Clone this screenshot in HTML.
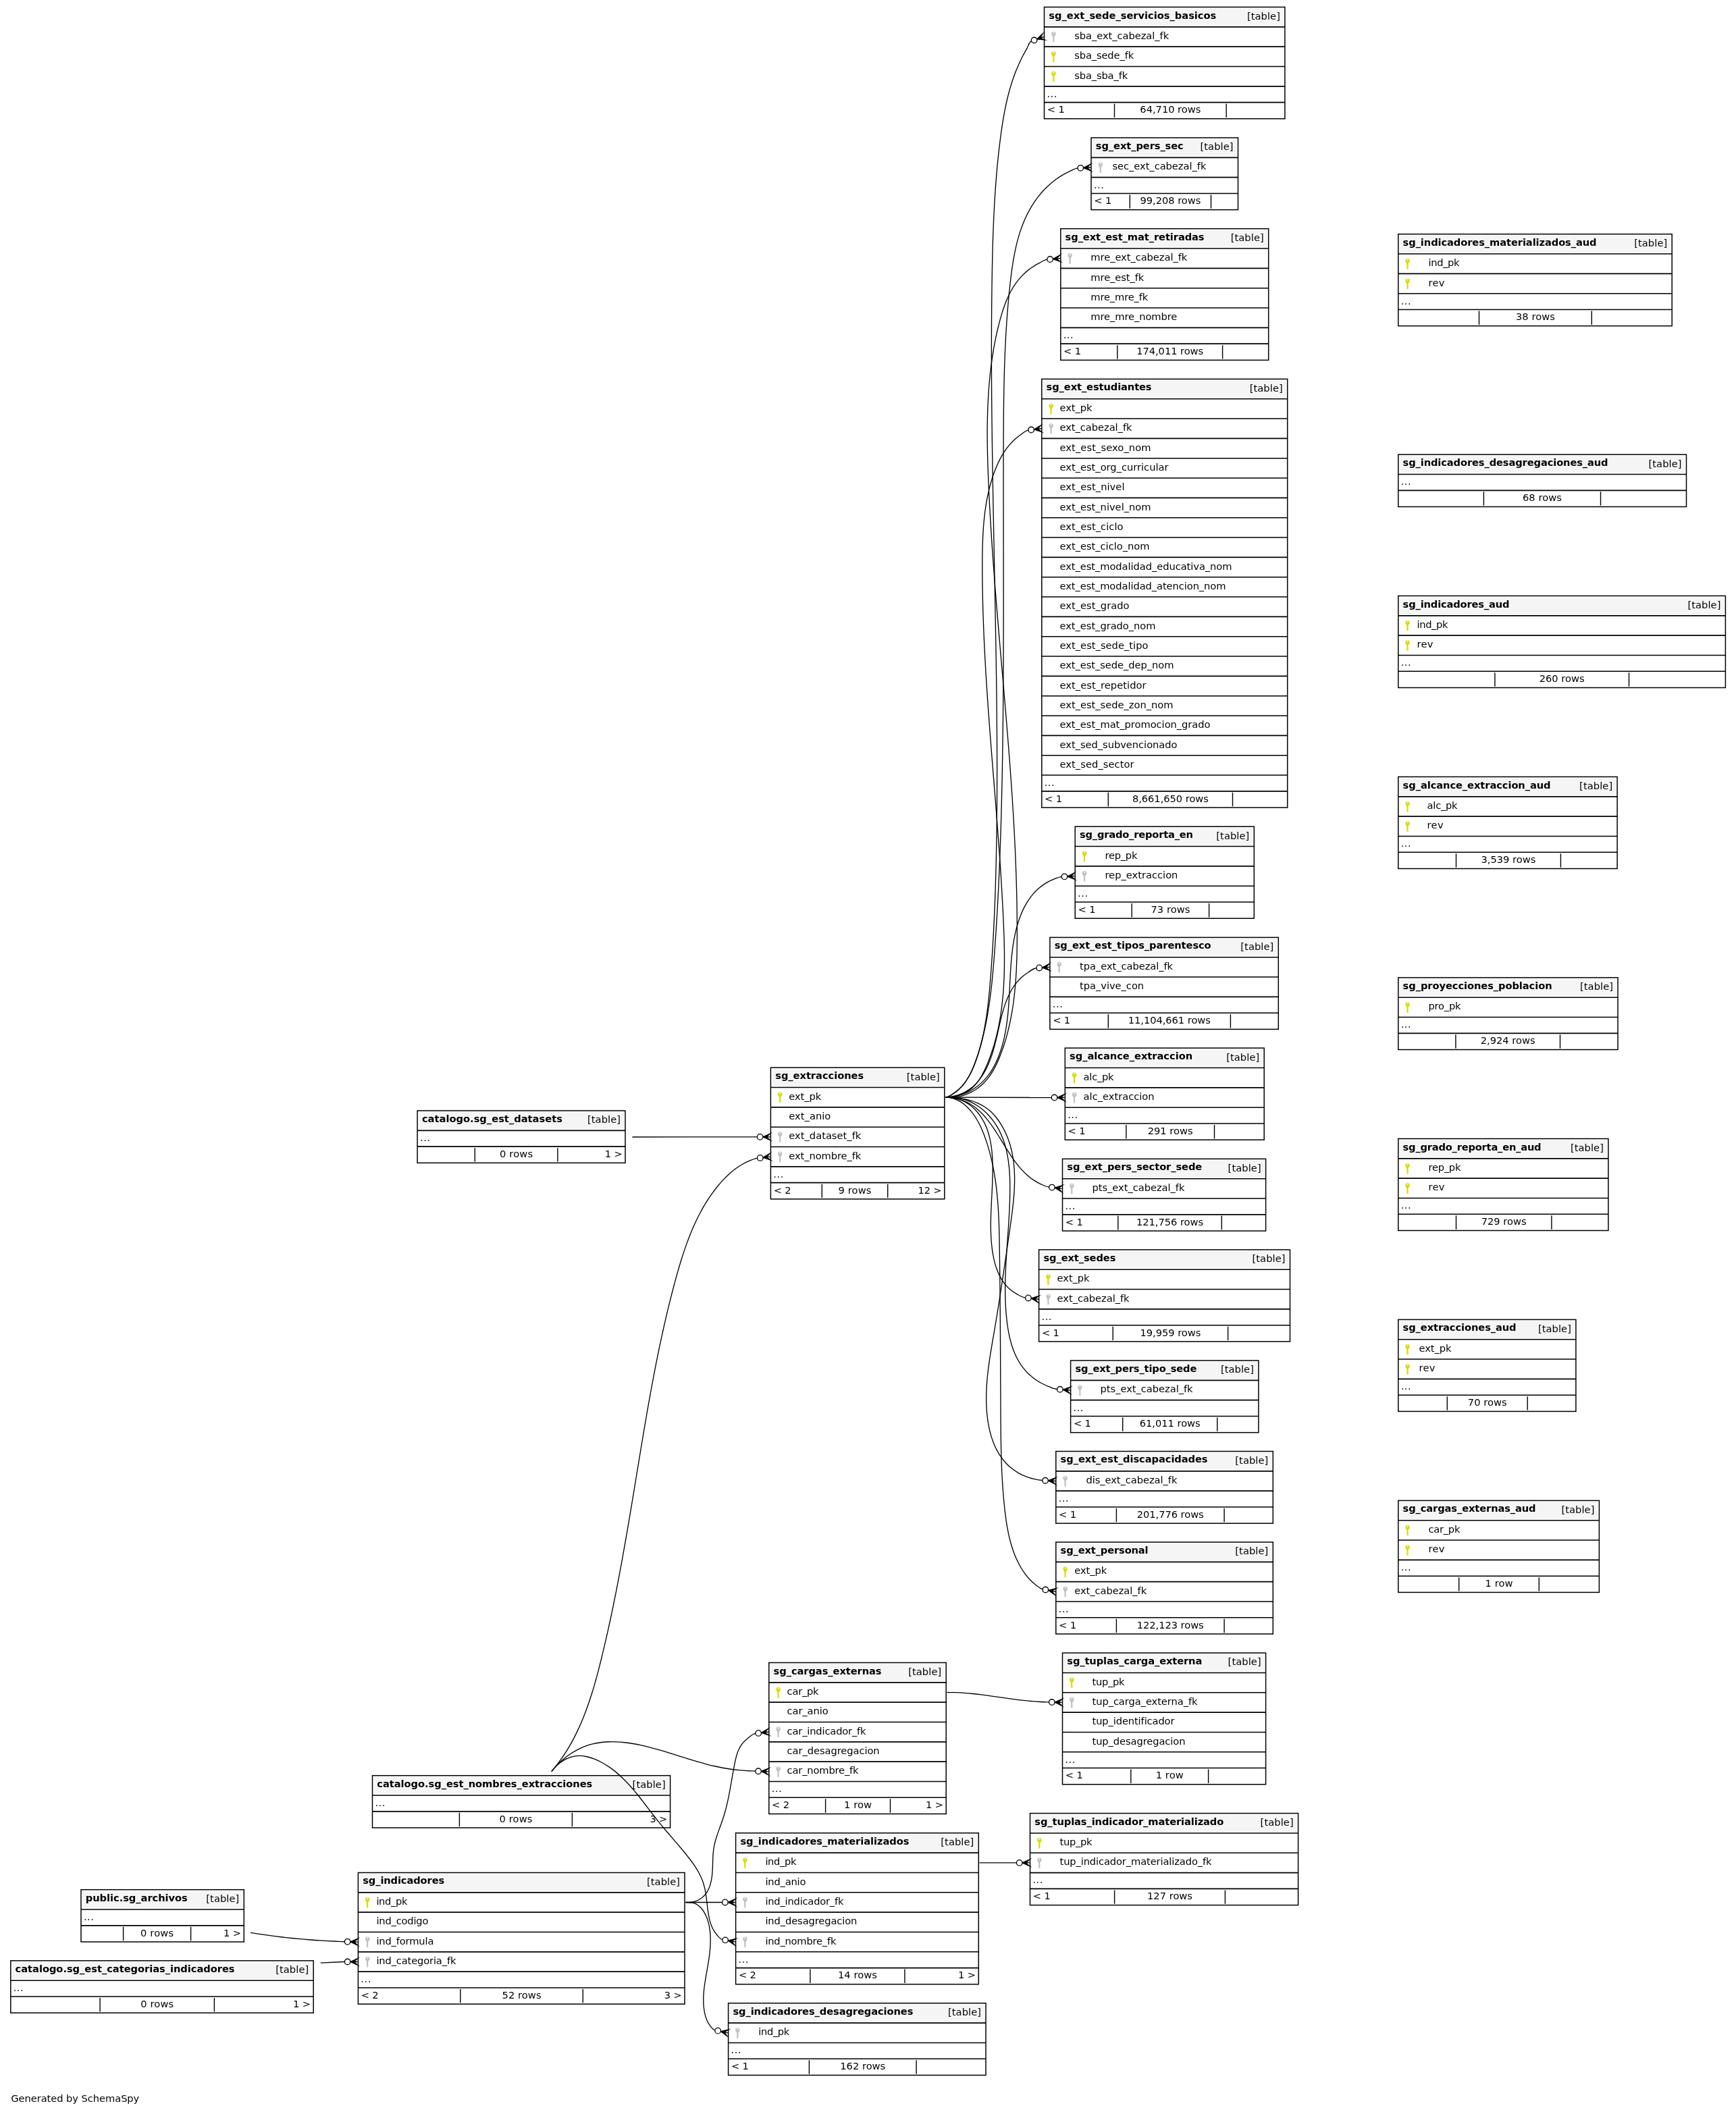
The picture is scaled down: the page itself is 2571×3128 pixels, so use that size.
<!DOCTYPE html>
<html lang="es"><head><meta charset="utf-8"><title>SchemaSpy - relationships</title>
<style>
html,body{margin:0;padding:0;background:#fff}
svg{display:block;will-change:transform}
text{font-family:"DejaVu Sans","Liberation Sans",sans-serif;font-size:14.667px;fill:#000;white-space:pre}
.b{font-weight:bold}
.e{text-anchor:end}
.m{text-anchor:middle}
.ed path{fill:none;stroke:#000;stroke-width:1.33}
.ed .c{fill:#000;stroke:#000;stroke-width:1.33;stroke-miterlimit:10}
.ed .o{fill:#fff;stroke:#000;stroke-width:1.33}
</style></head>
<body>
<svg width="2571" height="3128" viewBox="0 0 2571 3128">
<rect width="2571" height="3128" fill="#fff"/>
<g><rect x="1546.5" y="10.5" width="356.4" height="165.33" fill="#fff"/><rect x="1548.3" y="12.3" width="352.8" height="25.63" fill="#f5f5f5"/><path d="M1546.5 39.83H1902.9M1546.5 69.17H1902.9M1546.5 98.5H1902.9M1546.5 127.83H1902.9M1546.5 151.63H1902.9" stroke="#000" stroke-width="1.6" fill="none"/><path d="M1650.5 153.63V174.03M1816.2 153.63V174.03" stroke="#000" stroke-width="1.4" fill="none"/><rect x="1546.5" y="10.5" width="356.4" height="165.33" fill="none" stroke="#000" stroke-width="1.5"/><text class="b" x="1553.3" y="28" textLength="248">sg_ext_sede_servicios_basicos</text><text class="e" x="1895.9" y="29" textLength="49">[table]</text><g fill="#c0c0c0"><circle cx="1560.35" cy="50.1" r="3.2"/><path d="M1558.35 52.3 L1561.95 52.3 L1561.15 55.5 L1561.15 56.1 L1561.6 56.7 L1561.15 57.7 L1561.6 58.9 L1561.15 59.9 L1561.65 61.1 L1561.15 62.3 L1559.35 62.7 Q1559.15 62.7 1559.15 55.5 Z"/><circle cx="1560.4" cy="48.95" r="1.05" fill="#fff"/></g><text x="1591.2" y="58" textLength="140">sba_ext_cabezal_fk</text><g fill="#d6dc00"><circle cx="1560.35" cy="79.43" r="3.2"/><path d="M1558.35 81.63 L1561.95 81.63 L1561.15 84.83 L1561.15 85.43 L1561.6 86.03 L1561.15 87.03 L1561.6 88.23 L1561.15 89.23 L1561.65 90.43 L1561.15 91.63 L1559.35 92.03 Q1559.15 92.03 1559.15 84.83 Z"/><circle cx="1560.4" cy="78.28" r="1.05" fill="#fff"/></g><text x="1591.2" y="87" textLength="88">sba_sede_fk</text><g fill="#d6dc00"><circle cx="1560.35" cy="108.77" r="3.2"/><path d="M1558.35 110.97 L1561.95 110.97 L1561.15 114.17 L1561.15 114.77 L1561.6 115.37 L1561.15 116.37 L1561.6 117.57 L1561.15 118.57 L1561.65 119.77 L1561.15 120.97 L1559.35 121.37 Q1559.15 121.37 1559.15 114.17 Z"/><circle cx="1560.4" cy="107.62" r="1.05" fill="#fff"/></g><text x="1591.2" y="117" textLength="79">sba_sba_fk</text><text x="1550.4" y="144" textLength="15">...</text><text x="1550.8" y="167" textLength="26">&lt; 1</text><text class="m" x="1733.35" y="167" textLength="90">64,710 rows</text></g>
<g><rect x="1616" y="204" width="217.5" height="106.67" fill="#fff"/><rect x="1617.8" y="205.8" width="213.9" height="25.63" fill="#f5f5f5"/><path d="M1616 233.33H1833.5M1616 262.67H1833.5M1616 286.47H1833.5" stroke="#000" stroke-width="1.6" fill="none"/><path d="M1673.3 288.47V308.87M1793.5 288.47V308.87" stroke="#000" stroke-width="1.4" fill="none"/><rect x="1616" y="204" width="217.5" height="106.67" fill="none" stroke="#000" stroke-width="1.5"/><text class="b" x="1622.8" y="221" textLength="130">sg_ext_pers_sec</text><text class="e" x="1826.5" y="222" textLength="49">[table]</text><g fill="#c0c0c0"><circle cx="1629.85" cy="243.6" r="3.2"/><path d="M1627.85 245.8 L1631.45 245.8 L1630.65 249 L1630.65 249.6 L1631.1 250.2 L1630.65 251.2 L1631.1 252.4 L1630.65 253.4 L1631.15 254.6 L1630.65 255.8 L1628.85 256.2 Q1628.65 256.2 1628.65 249 Z"/><circle cx="1629.9" cy="242.45" r="1.05" fill="#fff"/></g><text x="1647.4" y="251" textLength="139">sec_ext_cabezal_fk</text><text x="1619.9" y="279" textLength="15">...</text><text x="1620.3" y="302" textLength="26">&lt; 1</text><text class="m" x="1733.4" y="302" textLength="90">99,208 rows</text></g>
<g><rect x="1570.8" y="338.7" width="307.9" height="194.67" fill="#fff"/><rect x="1572.6" y="340.5" width="304.3" height="25.63" fill="#f5f5f5"/><path d="M1570.8 368.03H1878.7M1570.8 397.37H1878.7M1570.8 426.7H1878.7M1570.8 456.03H1878.7M1570.8 485.36H1878.7M1570.8 509.17H1878.7" stroke="#000" stroke-width="1.6" fill="none"/><path d="M1654.8 511.17V531.57M1810.6 511.17V531.57" stroke="#000" stroke-width="1.4" fill="none"/><rect x="1570.8" y="338.7" width="307.9" height="194.67" fill="none" stroke="#000" stroke-width="1.5"/><text class="b" x="1577.6" y="356" textLength="206">sg_ext_est_mat_retiradas</text><text class="e" x="1871.7" y="357" textLength="49">[table]</text><g fill="#c0c0c0"><circle cx="1584.65" cy="378.3" r="3.2"/><path d="M1582.65 380.5 L1586.25 380.5 L1585.45 383.7 L1585.45 384.3 L1585.9 384.9 L1585.45 385.9 L1585.9 387.1 L1585.45 388.1 L1585.95 389.3 L1585.45 390.5 L1583.65 390.9 Q1583.45 390.9 1583.45 383.7 Z"/><circle cx="1584.7" cy="377.15" r="1.05" fill="#fff"/></g><text x="1615.3" y="386" textLength="143">mre_ext_cabezal_fk</text><text x="1615.3" y="416" textLength="79">mre_est_fk</text><text x="1615.3" y="445" textLength="85">mre_mre_fk</text><text x="1615.3" y="474" textLength="128">mre_mre_nombre</text><text x="1574.7" y="501" textLength="15">...</text><text x="1575.1" y="525" textLength="26">&lt; 1</text><text class="m" x="1732.7" y="525" textLength="99">174,011 rows</text></g>
<g><rect x="1542.8" y="561.4" width="363.9" height="634.66" fill="#fff"/><rect x="1544.6" y="563.2" width="360.3" height="25.63" fill="#f5f5f5"/><path d="M1542.8 590.73H1906.7M1542.8 620.07H1906.7M1542.8 649.4H1906.7M1542.8 678.73H1906.7M1542.8 708.06H1906.7M1542.8 737.4H1906.7M1542.8 766.73H1906.7M1542.8 796.06H1906.7M1542.8 825.4H1906.7M1542.8 854.73H1906.7M1542.8 884.06H1906.7M1542.8 913.4H1906.7M1542.8 942.73H1906.7M1542.8 972.06H1906.7M1542.8 1001.39H1906.7M1542.8 1030.73H1906.7M1542.8 1060.06H1906.7M1542.8 1089.39H1906.7M1542.8 1118.73H1906.7M1542.8 1148.06H1906.7M1542.8 1171.86H1906.7" stroke="#000" stroke-width="1.6" fill="none"/><path d="M1641.3 1173.86V1194.26M1825.5 1173.86V1194.26" stroke="#000" stroke-width="1.4" fill="none"/><rect x="1542.8" y="561.4" width="363.9" height="634.66" fill="none" stroke="#000" stroke-width="1.5"/><text class="b" x="1549.6" y="578" textLength="156">sg_ext_estudiantes</text><text class="e" x="1899.7" y="580" textLength="49">[table]</text><g fill="#d6dc00"><circle cx="1556.65" cy="601" r="3.2"/><path d="M1554.65 603.2 L1558.25 603.2 L1557.45 606.4 L1557.45 607 L1557.9 607.6 L1557.45 608.6 L1557.9 609.8 L1557.45 610.8 L1557.95 612 L1557.45 613.2 L1555.65 613.6 Q1555.45 613.6 1555.45 606.4 Z"/><circle cx="1556.7" cy="599.85" r="1.05" fill="#fff"/></g><text x="1569.5" y="609" textLength="48">ext_pk</text><g fill="#c0c0c0"><circle cx="1556.65" cy="630.33" r="3.2"/><path d="M1554.65 632.53 L1558.25 632.53 L1557.45 635.73 L1557.45 636.33 L1557.9 636.93 L1557.45 637.93 L1557.9 639.13 L1557.45 640.13 L1557.95 641.33 L1557.45 642.53 L1555.65 642.93 Q1555.45 642.93 1555.45 635.73 Z"/><circle cx="1556.7" cy="629.18" r="1.05" fill="#fff"/></g><text x="1569.5" y="638" textLength="107">ext_cabezal_fk</text><text x="1569.5" y="668" textLength="135">ext_est_sexo_nom</text><text x="1569.5" y="697" textLength="161">ext_est_org_curricular</text><text x="1569.5" y="726" textLength="96">ext_est_nivel</text><text x="1569.5" y="756" textLength="135">ext_est_nivel_nom</text><text x="1569.5" y="785" textLength="94">ext_est_ciclo</text><text x="1569.5" y="814" textLength="133">ext_est_ciclo_nom</text><text x="1569.5" y="844" textLength="255">ext_est_modalidad_educativa_nom</text><text x="1569.5" y="873" textLength="246">ext_est_modalidad_atencion_nom</text><text x="1569.5" y="902" textLength="103">ext_est_grado</text><text x="1569.5" y="932" textLength="142">ext_est_grado_nom</text><text x="1569.5" y="961" textLength="131">ext_est_sede_tipo</text><text x="1569.5" y="990" textLength="169">ext_est_sede_dep_nom</text><text x="1569.5" y="1020" textLength="128">ext_est_repetidor</text><text x="1569.5" y="1049" textLength="168">ext_est_sede_zon_nom</text><text x="1569.5" y="1078" textLength="223">ext_est_mat_promocion_grado</text><text x="1569.5" y="1108" textLength="174">ext_sed_subvencionado</text><text x="1569.5" y="1137" textLength="110">ext_sed_sector</text><text x="1546.7" y="1164" textLength="15">...</text><text x="1547.1" y="1188" textLength="26">&lt; 1</text><text class="m" x="1733.4" y="1188" textLength="113">8,661,650 rows</text></g>
<g><rect x="1592.2" y="1224.2" width="265.1" height="136" fill="#fff"/><rect x="1594" y="1226" width="261.5" height="25.63" fill="#f5f5f5"/><path d="M1592.2 1253.53H1857.3M1592.2 1282.87H1857.3M1592.2 1312.2H1857.3M1592.2 1336H1857.3" stroke="#000" stroke-width="1.6" fill="none"/><path d="M1676.2 1338V1358.4M1790.6 1338V1358.4" stroke="#000" stroke-width="1.4" fill="none"/><rect x="1592.2" y="1224.2" width="265.1" height="136" fill="none" stroke="#000" stroke-width="1.5"/><text class="b" x="1599" y="1241" textLength="168">sg_grado_reporta_en</text><text class="e" x="1850.3" y="1243" textLength="49">[table]</text><g fill="#d6dc00"><circle cx="1606.05" cy="1263.8" r="3.2"/><path d="M1604.05 1266 L1607.65 1266 L1606.85 1269.2 L1606.85 1269.8 L1607.3 1270.4 L1606.85 1271.4 L1607.3 1272.6 L1606.85 1273.6 L1607.35 1274.8 L1606.85 1276 L1605.05 1276.4 Q1604.85 1276.4 1604.85 1269.2 Z"/><circle cx="1606.1" cy="1262.65" r="1.05" fill="#fff"/></g><text x="1636.4" y="1272" textLength="48">rep_pk</text><g fill="#c0c0c0"><circle cx="1606.05" cy="1293.13" r="3.2"/><path d="M1604.05 1295.33 L1607.65 1295.33 L1606.85 1298.53 L1606.85 1299.13 L1607.3 1299.73 L1606.85 1300.73 L1607.3 1301.93 L1606.85 1302.93 L1607.35 1304.13 L1606.85 1305.33 L1605.05 1305.73 Q1604.85 1305.73 1604.85 1298.53 Z"/><circle cx="1606.1" cy="1291.98" r="1.05" fill="#fff"/></g><text x="1636.4" y="1301" textLength="108">rep_extraccion</text><text x="1596.1" y="1328" textLength="15">...</text><text x="1596.5" y="1352" textLength="26">&lt; 1</text><text class="m" x="1733.4" y="1352" textLength="58">73 rows</text></g>
<g><rect x="1554.9" y="1388.4" width="338.4" height="136" fill="#fff"/><rect x="1556.7" y="1390.2" width="334.8" height="25.63" fill="#f5f5f5"/><path d="M1554.9 1417.73H1893.3M1554.9 1447.07H1893.3M1554.9 1476.4H1893.3M1554.9 1500.2H1893.3" stroke="#000" stroke-width="1.6" fill="none"/><path d="M1641.3 1502.2V1522.6M1822.4 1502.2V1522.6" stroke="#000" stroke-width="1.4" fill="none"/><rect x="1554.9" y="1388.4" width="338.4" height="136" fill="none" stroke="#000" stroke-width="1.5"/><text class="b" x="1561.7" y="1405" textLength="232">sg_ext_est_tipos_parentesco</text><text class="e" x="1886.3" y="1407" textLength="49">[table]</text><g fill="#c0c0c0"><circle cx="1568.75" cy="1428" r="3.2"/><path d="M1566.75 1430.2 L1570.35 1430.2 L1569.55 1433.4 L1569.55 1434 L1570 1434.6 L1569.55 1435.6 L1570 1436.8 L1569.55 1437.8 L1570.05 1439 L1569.55 1440.2 L1567.75 1440.6 Q1567.55 1440.6 1567.55 1433.4 Z"/><circle cx="1568.8" cy="1426.85" r="1.05" fill="#fff"/></g><text x="1599.1" y="1436" textLength="138">tpa_ext_cabezal_fk</text><text x="1599.1" y="1465" textLength="95">tpa_vive_con</text><text x="1558.8" y="1492" textLength="15">...</text><text x="1559.2" y="1516" textLength="26">&lt; 1</text><text class="m" x="1731.85" y="1516" textLength="122">11,104,661 rows</text></g>
<g><rect x="1577.3" y="1552.2" width="294.9" height="136" fill="#fff"/><rect x="1579.1" y="1554" width="291.3" height="25.63" fill="#f5f5f5"/><path d="M1577.3 1581.53H1872.2M1577.3 1610.87H1872.2M1577.3 1640.2H1872.2M1577.3 1664H1872.2" stroke="#000" stroke-width="1.6" fill="none"/><path d="M1667.9 1666V1686.4M1798.5 1666V1686.4" stroke="#000" stroke-width="1.4" fill="none"/><rect x="1577.3" y="1552.2" width="294.9" height="136" fill="none" stroke="#000" stroke-width="1.5"/><text class="b" x="1584.1" y="1569" textLength="182">sg_alcance_extraccion</text><text class="e" x="1865.2" y="1571" textLength="49">[table]</text><g fill="#d6dc00"><circle cx="1591.15" cy="1591.8" r="3.2"/><path d="M1589.15 1594 L1592.75 1594 L1591.95 1597.2 L1591.95 1597.8 L1592.4 1598.4 L1591.95 1599.4 L1592.4 1600.6 L1591.95 1601.6 L1592.45 1602.8 L1591.95 1604 L1590.15 1604.4 Q1589.95 1604.4 1589.95 1597.2 Z"/><circle cx="1591.2" cy="1590.65" r="1.05" fill="#fff"/></g><text x="1604.6" y="1600" textLength="45">alc_pk</text><g fill="#c0c0c0"><circle cx="1591.15" cy="1621.13" r="3.2"/><path d="M1589.15 1623.33 L1592.75 1623.33 L1591.95 1626.53 L1591.95 1627.13 L1592.4 1627.73 L1591.95 1628.73 L1592.4 1629.93 L1591.95 1630.93 L1592.45 1632.13 L1591.95 1633.33 L1590.15 1633.73 Q1589.95 1633.73 1589.95 1626.53 Z"/><circle cx="1591.2" cy="1619.98" r="1.05" fill="#fff"/></g><text x="1604.6" y="1629" textLength="105">alc_extraccion</text><text x="1581.2" y="1656" textLength="15">...</text><text x="1581.6" y="1680" textLength="26">&lt; 1</text><text class="m" x="1733.2" y="1680" textLength="67">291 rows</text></g>
<g><rect x="1573.5" y="1716.4" width="301.1" height="106.67" fill="#fff"/><rect x="1575.3" y="1718.2" width="297.5" height="25.63" fill="#f5f5f5"/><path d="M1573.5 1745.73H1874.6M1573.5 1775.07H1874.6M1573.5 1798.87H1874.6" stroke="#000" stroke-width="1.6" fill="none"/><path d="M1655.8 1800.87V1821.27M1809.3 1800.87V1821.27" stroke="#000" stroke-width="1.4" fill="none"/><rect x="1573.5" y="1716.4" width="301.1" height="106.67" fill="none" stroke="#000" stroke-width="1.5"/><text class="b" x="1580.3" y="1733" textLength="200">sg_ext_pers_sector_sede</text><text class="e" x="1867.6" y="1735" textLength="49">[table]</text><g fill="#c0c0c0"><circle cx="1587.35" cy="1756" r="3.2"/><path d="M1585.35 1758.2 L1588.95 1758.2 L1588.15 1761.4 L1588.15 1762 L1588.6 1762.6 L1588.15 1763.6 L1588.6 1764.8 L1588.15 1765.8 L1588.65 1767 L1588.15 1768.2 L1586.35 1768.6 Q1586.15 1768.6 1586.15 1761.4 Z"/><circle cx="1587.4" cy="1754.85" r="1.05" fill="#fff"/></g><text x="1617.5" y="1764" textLength="137">pts_ext_cabezal_fk</text><text x="1577.4" y="1791" textLength="15">...</text><text x="1577.8" y="1815" textLength="26">&lt; 1</text><text class="m" x="1732.55" y="1815" textLength="99">121,756 rows</text></g>
<g><rect x="1538.6" y="1850.9" width="371.9" height="136" fill="#fff"/><rect x="1540.4" y="1852.7" width="368.3" height="25.63" fill="#f5f5f5"/><path d="M1538.6 1880.23H1910.5M1538.6 1909.57H1910.5M1538.6 1938.9H1910.5M1538.6 1962.7H1910.5" stroke="#000" stroke-width="1.6" fill="none"/><path d="M1648.2 1964.7V1985.1M1818.6 1964.7V1985.1" stroke="#000" stroke-width="1.4" fill="none"/><rect x="1538.6" y="1850.9" width="371.9" height="136" fill="none" stroke="#000" stroke-width="1.5"/><text class="b" x="1545.4" y="1868" textLength="107">sg_ext_sedes</text><text class="e" x="1903.5" y="1869" textLength="49">[table]</text><g fill="#d6dc00"><circle cx="1552.45" cy="1890.5" r="3.2"/><path d="M1550.45 1892.7 L1554.05 1892.7 L1553.25 1895.9 L1553.25 1896.5 L1553.7 1897.1 L1553.25 1898.1 L1553.7 1899.3 L1553.25 1900.3 L1553.75 1901.5 L1553.25 1902.7 L1551.45 1903.1 Q1551.25 1903.1 1551.25 1895.9 Z"/><circle cx="1552.5" cy="1889.35" r="1.05" fill="#fff"/></g><text x="1565.6" y="1898" textLength="48">ext_pk</text><g fill="#c0c0c0"><circle cx="1552.45" cy="1919.83" r="3.2"/><path d="M1550.45 1922.03 L1554.05 1922.03 L1553.25 1925.23 L1553.25 1925.83 L1553.7 1926.43 L1553.25 1927.43 L1553.7 1928.63 L1553.25 1929.63 L1553.75 1930.83 L1553.25 1932.03 L1551.45 1932.43 Q1551.25 1932.43 1551.25 1925.23 Z"/><circle cx="1552.5" cy="1918.68" r="1.05" fill="#fff"/></g><text x="1565.6" y="1928" textLength="107">ext_cabezal_fk</text><text x="1542.5" y="1955" textLength="15">...</text><text x="1542.9" y="1979" textLength="26">&lt; 1</text><text class="m" x="1733.4" y="1979" textLength="90">19,959 rows</text></g>
<g><rect x="1585.6" y="2015" width="278.3" height="106.67" fill="#fff"/><rect x="1587.4" y="2016.8" width="274.7" height="25.63" fill="#f5f5f5"/><path d="M1585.6 2044.33H1863.9M1585.6 2073.67H1863.9M1585.6 2097.47H1863.9" stroke="#000" stroke-width="1.6" fill="none"/><path d="M1662.7 2099.47V2119.87M1802.7 2099.47V2119.87" stroke="#000" stroke-width="1.4" fill="none"/><rect x="1585.6" y="2015" width="278.3" height="106.67" fill="none" stroke="#000" stroke-width="1.5"/><text class="b" x="1592.4" y="2032" textLength="180">sg_ext_pers_tipo_sede</text><text class="e" x="1856.9" y="2033" textLength="49">[table]</text><g fill="#c0c0c0"><circle cx="1599.45" cy="2054.6" r="3.2"/><path d="M1597.45 2056.8 L1601.05 2056.8 L1600.25 2060 L1600.25 2060.6 L1600.7 2061.2 L1600.25 2062.2 L1600.7 2063.4 L1600.25 2064.4 L1600.75 2065.6 L1600.25 2066.8 L1598.45 2067.2 Q1598.25 2067.2 1598.25 2060 Z"/><circle cx="1599.5" cy="2053.45" r="1.05" fill="#fff"/></g><text x="1629.6" y="2062" textLength="137">pts_ext_cabezal_fk</text><text x="1589.5" y="2090" textLength="15">...</text><text x="1589.9" y="2113" textLength="26">&lt; 1</text><text class="m" x="1732.7" y="2113" textLength="90">61,011 rows</text></g>
<g><rect x="1563.8" y="2149.5" width="321.5" height="106.67" fill="#fff"/><rect x="1565.6" y="2151.3" width="317.9" height="25.63" fill="#f5f5f5"/><path d="M1563.8 2178.83H1885.3M1563.8 2208.17H1885.3M1563.8 2231.97H1885.3" stroke="#000" stroke-width="1.6" fill="none"/><path d="M1653.4 2233.97V2254.37M1813.1 2233.97V2254.37" stroke="#000" stroke-width="1.4" fill="none"/><rect x="1563.8" y="2149.5" width="321.5" height="106.67" fill="none" stroke="#000" stroke-width="1.5"/><text class="b" x="1570.6" y="2166" textLength="218">sg_ext_est_discapacidades</text><text class="e" x="1878.3" y="2168" textLength="49">[table]</text><g fill="#c0c0c0"><circle cx="1577.65" cy="2189.1" r="3.2"/><path d="M1575.65 2191.3 L1579.25 2191.3 L1578.45 2194.5 L1578.45 2195.1 L1578.9 2195.7 L1578.45 2196.7 L1578.9 2197.9 L1578.45 2198.9 L1578.95 2200.1 L1578.45 2201.3 L1576.65 2201.7 Q1576.45 2201.7 1576.45 2194.5 Z"/><circle cx="1577.7" cy="2187.95" r="1.05" fill="#fff"/></g><text x="1608.4" y="2197" textLength="135">dis_ext_cabezal_fk</text><text x="1567.7" y="2224" textLength="15">...</text><text x="1568.1" y="2248" textLength="26">&lt; 1</text><text class="m" x="1733.25" y="2248" textLength="99">201,776 rows</text></g>
<g><rect x="1563.8" y="2284" width="321.5" height="136" fill="#fff"/><rect x="1565.6" y="2285.8" width="317.9" height="25.63" fill="#f5f5f5"/><path d="M1563.8 2313.33H1885.3M1563.8 2342.67H1885.3M1563.8 2372H1885.3M1563.8 2395.8H1885.3" stroke="#000" stroke-width="1.6" fill="none"/><path d="M1653.4 2397.8V2418.2M1813.1 2397.8V2418.2" stroke="#000" stroke-width="1.4" fill="none"/><rect x="1563.8" y="2284" width="321.5" height="136" fill="none" stroke="#000" stroke-width="1.5"/><text class="b" x="1570.6" y="2301" textLength="130">sg_ext_personal</text><text class="e" x="1878.3" y="2302" textLength="49">[table]</text><g fill="#d6dc00"><circle cx="1577.65" cy="2323.6" r="3.2"/><path d="M1575.65 2325.8 L1579.25 2325.8 L1578.45 2329 L1578.45 2329.6 L1578.9 2330.2 L1578.45 2331.2 L1578.9 2332.4 L1578.45 2333.4 L1578.95 2334.6 L1578.45 2335.8 L1576.65 2336.2 Q1576.45 2336.2 1576.45 2329 Z"/><circle cx="1577.7" cy="2322.45" r="1.05" fill="#fff"/></g><text x="1591.2" y="2331" textLength="48">ext_pk</text><g fill="#c0c0c0"><circle cx="1577.65" cy="2352.93" r="3.2"/><path d="M1575.65 2355.13 L1579.25 2355.13 L1578.45 2358.33 L1578.45 2358.93 L1578.9 2359.53 L1578.45 2360.53 L1578.9 2361.73 L1578.45 2362.73 L1578.95 2363.93 L1578.45 2365.13 L1576.65 2365.53 Q1576.45 2365.53 1576.45 2358.33 Z"/><circle cx="1577.7" cy="2351.78" r="1.05" fill="#fff"/></g><text x="1591.2" y="2361" textLength="107">ext_cabezal_fk</text><text x="1567.7" y="2388" textLength="15">...</text><text x="1568.1" y="2412" textLength="26">&lt; 1</text><text class="m" x="1733.25" y="2412" textLength="99">122,123 rows</text></g>
<g><rect x="1573.5" y="2448.1" width="301.1" height="194.66" fill="#fff"/><rect x="1575.3" y="2449.9" width="297.5" height="25.63" fill="#f5f5f5"/><path d="M1573.5 2477.43H1874.6M1573.5 2506.77H1874.6M1573.5 2536.1H1874.6M1573.5 2565.43H1874.6M1573.5 2594.77H1874.6M1573.5 2618.57H1874.6" stroke="#000" stroke-width="1.6" fill="none"/><path d="M1674.8 2620.57V2640.96M1789.6 2620.57V2640.96" stroke="#000" stroke-width="1.4" fill="none"/><rect x="1573.5" y="2448.1" width="301.1" height="194.66" fill="none" stroke="#000" stroke-width="1.5"/><text class="b" x="1580.3" y="2465" textLength="200">sg_tuplas_carga_externa</text><text class="e" x="1867.6" y="2466" textLength="49">[table]</text><g fill="#d6dc00"><circle cx="1587.35" cy="2487.7" r="3.2"/><path d="M1585.35 2489.9 L1588.95 2489.9 L1588.15 2493.1 L1588.15 2493.7 L1588.6 2494.3 L1588.15 2495.3 L1588.6 2496.5 L1588.15 2497.5 L1588.65 2498.7 L1588.15 2499.9 L1586.35 2500.3 Q1586.15 2500.3 1586.15 2493.1 Z"/><circle cx="1587.4" cy="2486.55" r="1.05" fill="#fff"/></g><text x="1617.5" y="2496" textLength="48">tup_pk</text><g fill="#c0c0c0"><circle cx="1587.35" cy="2517.03" r="3.2"/><path d="M1585.35 2519.23 L1588.95 2519.23 L1588.15 2522.43 L1588.15 2523.03 L1588.6 2523.63 L1588.15 2524.63 L1588.6 2525.83 L1588.15 2526.83 L1588.65 2528.03 L1588.15 2529.23 L1586.35 2529.63 Q1586.15 2529.63 1586.15 2522.43 Z"/><circle cx="1587.4" cy="2515.88" r="1.05" fill="#fff"/></g><text x="1617.5" y="2525" textLength="156">tup_carga_externa_fk</text><text x="1617.5" y="2554" textLength="122">tup_identificador</text><text x="1617.5" y="2584" textLength="138">tup_desagregacion</text><text x="1577.4" y="2611" textLength="15">...</text><text x="1577.8" y="2634" textLength="26">&lt; 1</text><text class="m" x="1732.2" y="2634" textLength="41">1 row</text></g>
<g><rect x="1525.5" y="2685.6" width="397.1" height="136" fill="#fff"/><rect x="1527.3" y="2687.4" width="393.5" height="25.63" fill="#f5f5f5"/><path d="M1525.5 2714.93H1922.6M1525.5 2744.27H1922.6M1525.5 2773.6H1922.6M1525.5 2797.4H1922.6" stroke="#000" stroke-width="1.6" fill="none"/><path d="M1650.6 2799.4V2819.8M1814.4 2799.4V2819.8" stroke="#000" stroke-width="1.4" fill="none"/><rect x="1525.5" y="2685.6" width="397.1" height="136" fill="none" stroke="#000" stroke-width="1.5"/><text class="b" x="1532.3" y="2703" textLength="280">sg_tuplas_indicador_materializado</text><text class="e" x="1915.6" y="2704" textLength="49">[table]</text><g fill="#d6dc00"><circle cx="1539.35" cy="2725.2" r="3.2"/><path d="M1537.35 2727.4 L1540.95 2727.4 L1540.15 2730.6 L1540.15 2731.2 L1540.6 2731.8 L1540.15 2732.8 L1540.6 2734 L1540.15 2735 L1540.65 2736.2 L1540.15 2737.4 L1538.35 2737.8 Q1538.15 2737.8 1538.15 2730.6 Z"/><circle cx="1539.4" cy="2724.05" r="1.05" fill="#fff"/></g><text x="1569.5" y="2733" textLength="48">tup_pk</text><g fill="#c0c0c0"><circle cx="1539.35" cy="2754.53" r="3.2"/><path d="M1537.35 2756.73 L1540.95 2756.73 L1540.15 2759.93 L1540.15 2760.53 L1540.6 2761.13 L1540.15 2762.13 L1540.6 2763.33 L1540.15 2764.33 L1540.65 2765.53 L1540.15 2766.73 L1538.35 2767.13 Q1538.15 2767.13 1538.15 2759.93 Z"/><circle cx="1539.4" cy="2753.38" r="1.05" fill="#fff"/></g><text x="1569.5" y="2762" textLength="225">tup_indicador_materializado_fk</text><text x="1529.4" y="2789" textLength="15">...</text><text x="1529.8" y="2813" textLength="26">&lt; 1</text><text class="m" x="1732.5" y="2813" textLength="67">127 rows</text></g>
<g><rect x="2070.8" y="346.7" width="405.4" height="136" fill="#fff"/><rect x="2072.6" y="348.5" width="401.8" height="25.63" fill="#f5f5f5"/><path d="M2070.8 376.03H2476.2M2070.8 405.37H2476.2M2070.8 434.7H2476.2M2070.8 458.5H2476.2" stroke="#000" stroke-width="1.6" fill="none"/><path d="M2190.5 460.5V480.9M2357.3 460.5V480.9" stroke="#000" stroke-width="1.4" fill="none"/><rect x="2070.8" y="346.7" width="405.4" height="136" fill="none" stroke="#000" stroke-width="1.5"/><text class="b" x="2077.6" y="364" textLength="287">sg_indicadores_materializados_aud</text><text class="e" x="2469.2" y="365" textLength="49">[table]</text><g fill="#d6dc00"><circle cx="2084.65" cy="386.3" r="3.2"/><path d="M2082.65 388.5 L2086.25 388.5 L2085.45 391.7 L2085.45 392.3 L2085.9 392.9 L2085.45 393.9 L2085.9 395.1 L2085.45 396.1 L2085.95 397.3 L2085.45 398.5 L2083.65 398.9 Q2083.45 398.9 2083.45 391.7 Z"/><circle cx="2084.7" cy="385.15" r="1.05" fill="#fff"/></g><text x="2115.5" y="394" textLength="46">ind_pk</text><g fill="#d6dc00"><circle cx="2084.65" cy="415.63" r="3.2"/><path d="M2082.65 417.83 L2086.25 417.83 L2085.45 421.03 L2085.45 421.63 L2085.9 422.23 L2085.45 423.23 L2085.9 424.43 L2085.45 425.43 L2085.95 426.63 L2085.45 427.83 L2083.65 428.23 Q2083.45 428.23 2083.45 421.03 Z"/><circle cx="2084.7" cy="414.48" r="1.05" fill="#fff"/></g><text x="2115.5" y="424" textLength="24">rev</text><text x="2074.7" y="451" textLength="15">...</text><text class="m" x="2273.9" y="474" textLength="58">38 rows</text></g>
<g><rect x="2070.8" y="673.2" width="426.7" height="77.33" fill="#fff"/><rect x="2072.6" y="675" width="423.1" height="25.63" fill="#f5f5f5"/><path d="M2070.8 702.53H2497.5M2070.8 726.33H2497.5" stroke="#000" stroke-width="1.6" fill="none"/><path d="M2197.4 728.33V748.73M2370.5 728.33V748.73" stroke="#000" stroke-width="1.4" fill="none"/><rect x="2070.8" y="673.2" width="426.7" height="77.33" fill="none" stroke="#000" stroke-width="1.5"/><text class="b" x="2077.6" y="690" textLength="304">sg_indicadores_desagregaciones_aud</text><text class="e" x="2490.5" y="692" textLength="49">[table]</text><text x="2074.7" y="718" textLength="15">...</text><text class="m" x="2283.95" y="742" textLength="58">68 rows</text></g>
<g><rect x="2070.8" y="882.5" width="484.6" height="136" fill="#fff"/><rect x="2072.6" y="884.3" width="481" height="25.63" fill="#f5f5f5"/><path d="M2070.8 911.83H2555.4M2070.8 941.17H2555.4M2070.8 970.5H2555.4M2070.8 994.3H2555.4" stroke="#000" stroke-width="1.6" fill="none"/><path d="M2213.9 996.3V1016.7M2412.5 996.3V1016.7" stroke="#000" stroke-width="1.4" fill="none"/><rect x="2070.8" y="882.5" width="484.6" height="136" fill="none" stroke="#000" stroke-width="1.5"/><text class="b" x="2077.6" y="900" textLength="158">sg_indicadores_aud</text><text class="e" x="2548.4" y="901" textLength="49">[table]</text><g fill="#d6dc00"><circle cx="2084.65" cy="922.1" r="3.2"/><path d="M2082.65 924.3 L2086.25 924.3 L2085.45 927.5 L2085.45 928.1 L2085.9 928.7 L2085.45 929.7 L2085.9 930.9 L2085.45 931.9 L2085.95 933.1 L2085.45 934.3 L2083.65 934.7 Q2083.45 934.7 2083.45 927.5 Z"/><circle cx="2084.7" cy="920.95" r="1.05" fill="#fff"/></g><text x="2098.5" y="930" textLength="46">ind_pk</text><g fill="#d6dc00"><circle cx="2084.65" cy="951.43" r="3.2"/><path d="M2082.65 953.63 L2086.25 953.63 L2085.45 956.83 L2085.45 957.43 L2085.9 958.03 L2085.45 959.03 L2085.9 960.23 L2085.45 961.23 L2085.95 962.43 L2085.45 963.63 L2083.65 964.03 Q2083.45 964.03 2083.45 956.83 Z"/><circle cx="2084.7" cy="950.28" r="1.05" fill="#fff"/></g><text x="2098.5" y="959" textLength="24">rev</text><text x="2074.7" y="986" textLength="15">...</text><text class="m" x="2313.2" y="1010" textLength="67">260 rows</text></g>
<g><rect x="2070.8" y="1150.5" width="324.3" height="136" fill="#fff"/><rect x="2072.6" y="1152.3" width="320.7" height="25.63" fill="#f5f5f5"/><path d="M2070.8 1179.83H2395.1M2070.8 1209.17H2395.1M2070.8 1238.5H2395.1M2070.8 1262.3H2395.1" stroke="#000" stroke-width="1.6" fill="none"/><path d="M2156.5 1264.3V1284.7M2311.4 1264.3V1284.7" stroke="#000" stroke-width="1.4" fill="none"/><rect x="2070.8" y="1150.5" width="324.3" height="136" fill="none" stroke="#000" stroke-width="1.5"/><text class="b" x="2077.6" y="1168" textLength="219">sg_alcance_extraccion_aud</text><text class="e" x="2388.1" y="1169" textLength="49">[table]</text><g fill="#d6dc00"><circle cx="2084.65" cy="1190.1" r="3.2"/><path d="M2082.65 1192.3 L2086.25 1192.3 L2085.45 1195.5 L2085.45 1196.1 L2085.9 1196.7 L2085.45 1197.7 L2085.9 1198.9 L2085.45 1199.9 L2085.95 1201.1 L2085.45 1202.3 L2083.65 1202.7 Q2083.45 1202.7 2083.45 1195.5 Z"/><circle cx="2084.7" cy="1188.95" r="1.05" fill="#fff"/></g><text x="2113.6" y="1198" textLength="45">alc_pk</text><g fill="#d6dc00"><circle cx="2084.65" cy="1219.43" r="3.2"/><path d="M2082.65 1221.63 L2086.25 1221.63 L2085.45 1224.83 L2085.45 1225.43 L2085.9 1226.03 L2085.45 1227.03 L2085.9 1228.23 L2085.45 1229.23 L2085.95 1230.43 L2085.45 1231.63 L2083.65 1232.03 Q2083.45 1232.03 2083.45 1224.83 Z"/><circle cx="2084.7" cy="1218.28" r="1.05" fill="#fff"/></g><text x="2113.6" y="1227" textLength="24">rev</text><text x="2074.7" y="1254" textLength="15">...</text><text class="m" x="2233.95" y="1278" textLength="81">3,539 rows</text></g>
<g><rect x="2070.8" y="1447.9" width="325.2" height="106.67" fill="#fff"/><rect x="2072.6" y="1449.7" width="321.6" height="25.63" fill="#f5f5f5"/><path d="M2070.8 1477.23H2396M2070.8 1506.57H2396M2070.8 1530.37H2396" stroke="#000" stroke-width="1.6" fill="none"/><path d="M2155.9 1532.37V1552.77M2310.5 1532.37V1552.77" stroke="#000" stroke-width="1.4" fill="none"/><rect x="2070.8" y="1447.9" width="325.2" height="106.67" fill="none" stroke="#000" stroke-width="1.5"/><text class="b" x="2077.6" y="1465" textLength="221">sg_proyecciones_poblacion</text><text class="e" x="2389" y="1466" textLength="49">[table]</text><g fill="#d6dc00"><circle cx="2084.65" cy="1487.5" r="3.2"/><path d="M2082.65 1489.7 L2086.25 1489.7 L2085.45 1492.9 L2085.45 1493.5 L2085.9 1494.1 L2085.45 1495.1 L2085.9 1496.3 L2085.45 1497.3 L2085.95 1498.5 L2085.45 1499.7 L2083.65 1500.1 Q2083.45 1500.1 2083.45 1492.9 Z"/><circle cx="2084.7" cy="1486.35" r="1.05" fill="#fff"/></g><text x="2115.5" y="1495" textLength="48">pro_pk</text><text x="2074.7" y="1522" textLength="15">...</text><text class="m" x="2233.2" y="1546" textLength="81">2,924 rows</text></g>
<g><rect x="2070.8" y="1686.5" width="311.1" height="136" fill="#fff"/><rect x="2072.6" y="1688.3" width="307.5" height="25.63" fill="#f5f5f5"/><path d="M2070.8 1715.83H2381.9M2070.8 1745.17H2381.9M2070.8 1774.5H2381.9M2070.8 1798.3H2381.9" stroke="#000" stroke-width="1.6" fill="none"/><path d="M2156.5 1800.3V1820.7M2297.9 1800.3V1820.7" stroke="#000" stroke-width="1.4" fill="none"/><rect x="2070.8" y="1686.5" width="311.1" height="136" fill="none" stroke="#000" stroke-width="1.5"/><text class="b" x="2077.6" y="1704" textLength="205">sg_grado_reporta_en_aud</text><text class="e" x="2374.9" y="1705" textLength="49">[table]</text><g fill="#d6dc00"><circle cx="2084.65" cy="1726.1" r="3.2"/><path d="M2082.65 1728.3 L2086.25 1728.3 L2085.45 1731.5 L2085.45 1732.1 L2085.9 1732.7 L2085.45 1733.7 L2085.9 1734.9 L2085.45 1735.9 L2085.95 1737.1 L2085.45 1738.3 L2083.65 1738.7 Q2083.45 1738.7 2083.45 1731.5 Z"/><circle cx="2084.7" cy="1724.95" r="1.05" fill="#fff"/></g><text x="2115.4" y="1734" textLength="48">rep_pk</text><g fill="#d6dc00"><circle cx="2084.65" cy="1755.43" r="3.2"/><path d="M2082.65 1757.63 L2086.25 1757.63 L2085.45 1760.83 L2085.45 1761.43 L2085.9 1762.03 L2085.45 1763.03 L2085.9 1764.23 L2085.45 1765.23 L2085.95 1766.43 L2085.45 1767.63 L2083.65 1768.03 Q2083.45 1768.03 2083.45 1760.83 Z"/><circle cx="2084.7" cy="1754.28" r="1.05" fill="#fff"/></g><text x="2115.4" y="1763" textLength="24">rev</text><text x="2074.7" y="1790" textLength="15">...</text><text class="m" x="2227.2" y="1814" textLength="67">729 rows</text></g>
<g><rect x="2070.8" y="1954.4" width="263.1" height="136" fill="#fff"/><rect x="2072.6" y="1956.2" width="259.5" height="25.63" fill="#f5f5f5"/><path d="M2070.8 1983.73H2333.9M2070.8 2013.07H2333.9M2070.8 2042.4H2333.9M2070.8 2066.2H2333.9" stroke="#000" stroke-width="1.6" fill="none"/><path d="M2143.3 2068.2V2088.6M2262.2 2068.2V2088.6" stroke="#000" stroke-width="1.4" fill="none"/><rect x="2070.8" y="1954.4" width="263.1" height="136" fill="none" stroke="#000" stroke-width="1.5"/><text class="b" x="2077.6" y="1971" textLength="168">sg_extracciones_aud</text><text class="e" x="2326.9" y="1973" textLength="49">[table]</text><g fill="#d6dc00"><circle cx="2084.65" cy="1994" r="3.2"/><path d="M2082.65 1996.2 L2086.25 1996.2 L2085.45 1999.4 L2085.45 2000 L2085.9 2000.6 L2085.45 2001.6 L2085.9 2002.8 L2085.45 2003.8 L2085.95 2005 L2085.45 2006.2 L2083.65 2006.6 Q2083.45 2006.6 2083.45 1999.4 Z"/><circle cx="2084.7" cy="1992.85" r="1.05" fill="#fff"/></g><text x="2101.5" y="2002" textLength="48">ext_pk</text><g fill="#d6dc00"><circle cx="2084.65" cy="2023.33" r="3.2"/><path d="M2082.65 2025.53 L2086.25 2025.53 L2085.45 2028.73 L2085.45 2029.33 L2085.9 2029.93 L2085.45 2030.93 L2085.9 2032.13 L2085.45 2033.13 L2085.95 2034.33 L2085.45 2035.53 L2083.65 2035.93 Q2083.45 2035.93 2083.45 2028.73 Z"/><circle cx="2084.7" cy="2022.18" r="1.05" fill="#fff"/></g><text x="2101.5" y="2031" textLength="24">rev</text><text x="2074.7" y="2058" textLength="15">...</text><text class="m" x="2202.75" y="2082" textLength="58">70 rows</text></g>
<g><rect x="2070.8" y="2222.4" width="297.6" height="136" fill="#fff"/><rect x="2072.6" y="2224.2" width="294" height="25.63" fill="#f5f5f5"/><path d="M2070.8 2251.73H2368.4M2070.8 2281.07H2368.4M2070.8 2310.4H2368.4M2070.8 2334.2H2368.4" stroke="#000" stroke-width="1.6" fill="none"/><path d="M2160.7 2336.2V2356.6M2279.3 2336.2V2356.6" stroke="#000" stroke-width="1.4" fill="none"/><rect x="2070.8" y="2222.4" width="297.6" height="136" fill="none" stroke="#000" stroke-width="1.5"/><text class="b" x="2077.6" y="2239" textLength="197">sg_cargas_externas_aud</text><text class="e" x="2361.4" y="2241" textLength="49">[table]</text><g fill="#d6dc00"><circle cx="2084.65" cy="2262" r="3.2"/><path d="M2082.65 2264.2 L2086.25 2264.2 L2085.45 2267.4 L2085.45 2268 L2085.9 2268.6 L2085.45 2269.6 L2085.9 2270.8 L2085.45 2271.8 L2085.95 2273 L2085.45 2274.2 L2083.65 2274.6 Q2083.45 2274.6 2083.45 2267.4 Z"/><circle cx="2084.7" cy="2260.85" r="1.05" fill="#fff"/></g><text x="2115.4" y="2270" textLength="47">car_pk</text><g fill="#d6dc00"><circle cx="2084.65" cy="2291.33" r="3.2"/><path d="M2082.65 2293.53 L2086.25 2293.53 L2085.45 2296.73 L2085.45 2297.33 L2085.9 2297.93 L2085.45 2298.93 L2085.9 2300.13 L2085.45 2301.13 L2085.95 2302.33 L2085.45 2303.53 L2083.65 2303.93 Q2083.45 2303.93 2083.45 2296.73 Z"/><circle cx="2084.7" cy="2290.18" r="1.05" fill="#fff"/></g><text x="2115.4" y="2299" textLength="24">rev</text><text x="2074.7" y="2326" textLength="15">...</text><text class="m" x="2220" y="2350" textLength="41">1 row</text></g>
<g><rect x="1141.4" y="1581.2" width="257.4" height="194.67" fill="#fff"/><rect x="1143.2" y="1583" width="253.8" height="25.63" fill="#f5f5f5"/><path d="M1141.4 1610.53H1398.8M1141.4 1639.87H1398.8M1141.4 1669.2H1398.8M1141.4 1698.53H1398.8M1141.4 1727.87H1398.8M1141.4 1751.67H1398.8" stroke="#000" stroke-width="1.6" fill="none"/><path d="M1217.3 1753.67V1774.07M1314.7 1753.67V1774.07" stroke="#000" stroke-width="1.4" fill="none"/><rect x="1141.4" y="1581.2" width="257.4" height="194.67" fill="none" stroke="#000" stroke-width="1.5"/><text class="b" x="1148.2" y="1598" textLength="131">sg_extracciones</text><text class="e" x="1391.8" y="1600" textLength="49">[table]</text><g fill="#d6dc00"><circle cx="1155.25" cy="1620.8" r="3.2"/><path d="M1153.25 1623 L1156.85 1623 L1156.05 1626.2 L1156.05 1626.8 L1156.5 1627.4 L1156.05 1628.4 L1156.5 1629.6 L1156.05 1630.6 L1156.55 1631.8 L1156.05 1633 L1154.25 1633.4 Q1154.05 1633.4 1154.05 1626.2 Z"/><circle cx="1155.3" cy="1619.65" r="1.05" fill="#fff"/></g><text x="1168.3" y="1629" textLength="48">ext_pk</text><text x="1168.3" y="1658" textLength="62">ext_anio</text><g fill="#c0c0c0"><circle cx="1155.25" cy="1679.47" r="3.2"/><path d="M1153.25 1681.67 L1156.85 1681.67 L1156.05 1684.87 L1156.05 1685.47 L1156.5 1686.07 L1156.05 1687.07 L1156.5 1688.27 L1156.05 1689.27 L1156.55 1690.47 L1156.05 1691.67 L1154.25 1692.07 Q1154.05 1692.07 1154.05 1684.87 Z"/><circle cx="1155.3" cy="1678.32" r="1.05" fill="#fff"/></g><text x="1168.3" y="1687" textLength="107">ext_dataset_fk</text><g fill="#c0c0c0"><circle cx="1155.25" cy="1708.8" r="3.2"/><path d="M1153.25 1711 L1156.85 1711 L1156.05 1714.2 L1156.05 1714.8 L1156.5 1715.4 L1156.05 1716.4 L1156.5 1717.6 L1156.05 1718.6 L1156.55 1719.8 L1156.05 1721 L1154.25 1721.4 Q1154.05 1721.4 1154.05 1714.2 Z"/><circle cx="1155.3" cy="1707.65" r="1.05" fill="#fff"/></g><text x="1168.3" y="1717" textLength="107">ext_nombre_fk</text><text x="1145.3" y="1744" textLength="15">...</text><text x="1145.7" y="1768" textLength="26">&lt; 2</text><text class="m" x="1266" y="1768" textLength="49">9 rows</text><text class="e" x="1394.6" y="1768" textLength="35">12 &gt;</text></g>
<g><rect x="1138.8" y="2462.5" width="262.4" height="224" fill="#fff"/><rect x="1140.6" y="2464.3" width="258.8" height="25.63" fill="#f5f5f5"/><path d="M1138.8 2491.83H1401.2M1138.8 2521.17H1401.2M1138.8 2550.5H1401.2M1138.8 2579.83H1401.2M1138.8 2609.17H1401.2M1138.8 2638.5H1401.2M1138.8 2662.3H1401.2" stroke="#000" stroke-width="1.6" fill="none"/><path d="M1222.6 2664.3V2684.7M1318.5 2664.3V2684.7" stroke="#000" stroke-width="1.4" fill="none"/><rect x="1138.8" y="2462.5" width="262.4" height="224" fill="none" stroke="#000" stroke-width="1.5"/><text class="b" x="1145.6" y="2480" textLength="160">sg_cargas_externas</text><text class="e" x="1394.2" y="2481" textLength="49">[table]</text><g fill="#d6dc00"><circle cx="1152.65" cy="2502.1" r="3.2"/><path d="M1150.65 2504.3 L1154.25 2504.3 L1153.45 2507.5 L1153.45 2508.1 L1153.9 2508.7 L1153.45 2509.7 L1153.9 2510.9 L1153.45 2511.9 L1153.95 2513.1 L1153.45 2514.3 L1151.65 2514.7 Q1151.45 2514.7 1151.45 2507.5 Z"/><circle cx="1152.7" cy="2500.95" r="1.05" fill="#fff"/></g><text x="1165.6" y="2510" textLength="47">car_pk</text><text x="1165.6" y="2539" textLength="61">car_anio</text><g fill="#c0c0c0"><circle cx="1152.65" cy="2560.77" r="3.2"/><path d="M1150.65 2562.97 L1154.25 2562.97 L1153.45 2566.17 L1153.45 2566.77 L1153.9 2567.37 L1153.45 2568.37 L1153.9 2569.57 L1153.45 2570.57 L1153.95 2571.77 L1153.45 2572.97 L1151.65 2573.37 Q1151.45 2573.37 1151.45 2566.17 Z"/><circle cx="1152.7" cy="2559.62" r="1.05" fill="#fff"/></g><text x="1165.6" y="2569" textLength="117">car_indicador_fk</text><text x="1165.6" y="2598" textLength="137">car_desagregacion</text><g fill="#c0c0c0"><circle cx="1152.65" cy="2619.43" r="3.2"/><path d="M1150.65 2621.63 L1154.25 2621.63 L1153.45 2624.83 L1153.45 2625.43 L1153.9 2626.03 L1153.45 2627.03 L1153.9 2628.23 L1153.45 2629.23 L1153.95 2630.43 L1153.45 2631.63 L1151.65 2632.03 Q1151.45 2632.03 1151.45 2624.83 Z"/><circle cx="1152.7" cy="2618.28" r="1.05" fill="#fff"/></g><text x="1165.6" y="2627" textLength="106">car_nombre_fk</text><text x="1142.7" y="2654" textLength="15">...</text><text x="1143.1" y="2678" textLength="26">&lt; 2</text><text class="m" x="1270.55" y="2678" textLength="41">1 row</text><text class="e" x="1397" y="2678" textLength="26">1 &gt;</text></g>
<g><rect x="1089.6" y="2714.8" width="359.7" height="224" fill="#fff"/><rect x="1091.4" y="2716.6" width="356.1" height="25.63" fill="#f5f5f5"/><path d="M1089.6 2744.13H1449.3M1089.6 2773.47H1449.3M1089.6 2802.8H1449.3M1089.6 2832.13H1449.3M1089.6 2861.47H1449.3M1089.6 2890.8H1449.3M1089.6 2914.6H1449.3" stroke="#000" stroke-width="1.6" fill="none"/><path d="M1199.9 2916.6V2937M1339.9 2916.6V2937" stroke="#000" stroke-width="1.4" fill="none"/><rect x="1089.6" y="2714.8" width="359.7" height="224" fill="none" stroke="#000" stroke-width="1.5"/><text class="b" x="1096.4" y="2732" textLength="250">sg_indicadores_materializados</text><text class="e" x="1442.3" y="2733" textLength="49">[table]</text><g fill="#d6dc00"><circle cx="1103.45" cy="2754.4" r="3.2"/><path d="M1101.45 2756.6 L1105.05 2756.6 L1104.25 2759.8 L1104.25 2760.4 L1104.7 2761 L1104.25 2762 L1104.7 2763.2 L1104.25 2764.2 L1104.75 2765.4 L1104.25 2766.6 L1102.45 2767 Q1102.25 2767 1102.25 2759.8 Z"/><circle cx="1103.5" cy="2753.25" r="1.05" fill="#fff"/></g><text x="1133.4" y="2762" textLength="46">ind_pk</text><text x="1133.4" y="2792" textLength="60">ind_anio</text><g fill="#c0c0c0"><circle cx="1103.45" cy="2813.07" r="3.2"/><path d="M1101.45 2815.27 L1105.05 2815.27 L1104.25 2818.47 L1104.25 2819.07 L1104.7 2819.67 L1104.25 2820.67 L1104.7 2821.87 L1104.25 2822.87 L1104.75 2824.07 L1104.25 2825.27 L1102.45 2825.67 Q1102.25 2825.67 1102.25 2818.47 Z"/><circle cx="1103.5" cy="2811.92" r="1.05" fill="#fff"/></g><text x="1133.4" y="2821" textLength="116">ind_indicador_fk</text><text x="1133.4" y="2850" textLength="136">ind_desagregacion</text><g fill="#c0c0c0"><circle cx="1103.45" cy="2871.73" r="3.2"/><path d="M1101.45 2873.93 L1105.05 2873.93 L1104.25 2877.13 L1104.25 2877.73 L1104.7 2878.33 L1104.25 2879.33 L1104.7 2880.53 L1104.25 2881.53 L1104.75 2882.73 L1104.25 2883.93 L1102.45 2884.33 Q1102.25 2884.33 1102.25 2877.13 Z"/><circle cx="1103.5" cy="2870.58" r="1.05" fill="#fff"/></g><text x="1133.4" y="2880" textLength="105">ind_nombre_fk</text><text x="1093.5" y="2907" textLength="15">...</text><text x="1093.9" y="2930" textLength="26">&lt; 2</text><text class="m" x="1269.9" y="2930" textLength="58">14 rows</text><text class="e" x="1445.1" y="2930" textLength="26">1 &gt;</text></g>
<g><rect x="1078.6" y="2966.8" width="381.4" height="106.67" fill="#fff"/><rect x="1080.4" y="2968.6" width="377.8" height="25.63" fill="#f5f5f5"/><path d="M1078.6 2996.13H1460M1078.6 3025.47H1460M1078.6 3049.27H1460" stroke="#000" stroke-width="1.6" fill="none"/><path d="M1198.4 3051.27V3071.67M1357.1 3051.27V3071.67" stroke="#000" stroke-width="1.4" fill="none"/><rect x="1078.6" y="2966.8" width="381.4" height="106.67" fill="none" stroke="#000" stroke-width="1.5"/><text class="b" x="1085.4" y="2984" textLength="267">sg_indicadores_desagregaciones</text><text class="e" x="1453" y="2985" textLength="49">[table]</text><g fill="#c0c0c0"><circle cx="1092.45" cy="3006.4" r="3.2"/><path d="M1090.45 3008.6 L1094.05 3008.6 L1093.25 3011.8 L1093.25 3012.4 L1093.7 3013 L1093.25 3014 L1093.7 3015.2 L1093.25 3016.2 L1093.75 3017.4 L1093.25 3018.6 L1091.45 3019 Q1091.25 3019 1091.25 3011.8 Z"/><circle cx="1092.5" cy="3005.25" r="1.05" fill="#fff"/></g><text x="1123.3" y="3014" textLength="46">ind_pk</text><text x="1082.5" y="3041" textLength="15">...</text><text x="1082.9" y="3065" textLength="26">&lt; 1</text><text class="m" x="1277.75" y="3065" textLength="67">162 rows</text></g>
<g><rect x="618.1" y="1645" width="307.9" height="77.33" fill="#fff"/><rect x="619.9" y="1646.8" width="304.3" height="25.63" fill="#f5f5f5"/><path d="M618.1 1674.33H926M618.1 1698.13H926" stroke="#000" stroke-width="1.6" fill="none"/><path d="M703.3 1700.13V1720.53M825.9 1700.13V1720.53" stroke="#000" stroke-width="1.4" fill="none"/><rect x="618.1" y="1645" width="307.9" height="77.33" fill="none" stroke="#000" stroke-width="1.5"/><text class="b" x="624.9" y="1662" textLength="208">catalogo.sg_est_datasets</text><text class="e" x="919" y="1663" textLength="49">[table]</text><text x="622" y="1690" textLength="15">...</text><text class="m" x="764.6" y="1714" textLength="49">0 rows</text><text class="e" x="921.8" y="1714" textLength="26">1 &gt;</text></g>
<g><rect x="551.5" y="2629.7" width="441.1" height="77.33" fill="#fff"/><rect x="553.3" y="2631.5" width="437.5" height="25.63" fill="#f5f5f5"/><path d="M551.5 2659.03H992.6M551.5 2682.83H992.6" stroke="#000" stroke-width="1.6" fill="none"/><path d="M680.4 2684.83V2705.23M847.4 2684.83V2705.23" stroke="#000" stroke-width="1.4" fill="none"/><rect x="551.5" y="2629.7" width="441.1" height="77.33" fill="none" stroke="#000" stroke-width="1.5"/><text class="b" x="558.3" y="2647" textLength="319">catalogo.sg_est_nombres_extracciones</text><text class="e" x="985.6" y="2648" textLength="49">[table]</text><text x="555.4" y="2675" textLength="15">...</text><text class="m" x="763.9" y="2699" textLength="49">0 rows</text><text class="e" x="988.4" y="2699" textLength="26">3 &gt;</text></g>
<g><rect x="530.4" y="2773.5" width="483.6" height="194.66" fill="#fff"/><rect x="532.2" y="2775.3" width="480" height="25.63" fill="#f5f5f5"/><path d="M530.4 2802.83H1014M530.4 2832.17H1014M530.4 2861.5H1014M530.4 2890.83H1014M530.4 2920.17H1014M530.4 2943.97H1014" stroke="#000" stroke-width="1.6" fill="none"/><path d="M681.8 2945.97V2966.36M863.3 2945.97V2966.36" stroke="#000" stroke-width="1.4" fill="none"/><rect x="530.4" y="2773.5" width="483.6" height="194.66" fill="none" stroke="#000" stroke-width="1.5"/><text class="b" x="537.2" y="2790" textLength="121">sg_indicadores</text><text class="e" x="1007" y="2792" textLength="49">[table]</text><g fill="#d6dc00"><circle cx="544.25" cy="2813.1" r="3.2"/><path d="M542.25 2815.3 L545.85 2815.3 L545.05 2818.5 L545.05 2819.1 L545.5 2819.7 L545.05 2820.7 L545.5 2821.9 L545.05 2822.9 L545.55 2824.1 L545.05 2825.3 L543.25 2825.7 Q543.05 2825.7 543.05 2818.5 Z"/><circle cx="544.3" cy="2811.95" r="1.05" fill="#fff"/></g><text x="557.4" y="2821" textLength="46">ind_pk</text><text x="557.4" y="2850" textLength="77">ind_codigo</text><g fill="#c0c0c0"><circle cx="544.25" cy="2871.77" r="3.2"/><path d="M542.25 2873.97 L545.85 2873.97 L545.05 2877.17 L545.05 2877.77 L545.5 2878.37 L545.05 2879.37 L545.5 2880.57 L545.05 2881.57 L545.55 2882.77 L545.05 2883.97 L543.25 2884.37 Q543.05 2884.37 543.05 2877.17 Z"/><circle cx="544.3" cy="2870.62" r="1.05" fill="#fff"/></g><text x="557.4" y="2880" textLength="85">ind_formula</text><g fill="#c0c0c0"><circle cx="544.25" cy="2901.1" r="3.2"/><path d="M542.25 2903.3 L545.85 2903.3 L545.05 2906.5 L545.05 2907.1 L545.5 2907.7 L545.05 2908.7 L545.5 2909.9 L545.05 2910.9 L545.55 2912.1 L545.05 2913.3 L543.25 2913.7 Q543.05 2913.7 543.05 2906.5 Z"/><circle cx="544.3" cy="2899.95" r="1.05" fill="#fff"/></g><text x="557.4" y="2909" textLength="118">ind_categoria_fk</text><text x="534.3" y="2936" textLength="15">...</text><text x="534.7" y="2960" textLength="26">&lt; 2</text><text class="m" x="772.55" y="2960" textLength="58">52 rows</text><text class="e" x="1009.8" y="2960" textLength="26">3 &gt;</text></g>
<g><rect x="120" y="2798.7" width="241.3" height="77.33" fill="#fff"/><rect x="121.8" y="2800.5" width="237.7" height="25.63" fill="#f5f5f5"/><path d="M120 2828.03H361.3M120 2851.83H361.3" stroke="#000" stroke-width="1.6" fill="none"/><path d="M182.6 2853.83V2874.23M282.6 2853.83V2874.23" stroke="#000" stroke-width="1.4" fill="none"/><rect x="120" y="2798.7" width="241.3" height="77.33" fill="none" stroke="#000" stroke-width="1.5"/><text class="b" x="126.8" y="2816" textLength="151">public.sg_archivos</text><text class="e" x="354.3" y="2817" textLength="49">[table]</text><text x="123.9" y="2844" textLength="15">...</text><text class="m" x="232.6" y="2868" textLength="49">0 rows</text><text class="e" x="357.1" y="2868" textLength="26">1 &gt;</text></g>
<g><rect x="15.8" y="2903.9" width="448.4" height="77.33" fill="#fff"/><rect x="17.6" y="2905.7" width="444.8" height="25.63" fill="#f5f5f5"/><path d="M15.8 2933.23H464.2M15.8 2957.03H464.2" stroke="#000" stroke-width="1.6" fill="none"/><path d="M148.1 2959.03V2979.43M317.4 2959.03V2979.43" stroke="#000" stroke-width="1.4" fill="none"/><rect x="15.8" y="2903.9" width="448.4" height="77.33" fill="none" stroke="#000" stroke-width="1.5"/><text class="b" x="22.6" y="2921" textLength="325">catalogo.sg_est_categorias_indicadores</text><text class="e" x="457.2" y="2922" textLength="49">[table]</text><text x="19.7" y="2949" textLength="15">...</text><text class="m" x="232.75" y="2973" textLength="49">0 rows</text><text class="e" x="460" y="2973" textLength="26">1 &gt;</text></g>
<g class="ed">
<path d="M1400.2 1625.2C1404.12 1625.2 1407.62 1622.47 1410.98 1620.51C1414.27 1618.6 1417.35 1616.18 1420.15 1613.6C1422.99 1610.97 1425.55 1607.97 1427.89 1604.88C1430.31 1601.7 1432.44 1598.26 1434.42 1594.78C1436.45 1591.21 1438.23 1587.47 1439.91 1583.72C1441.62 1579.93 1443.13 1576.03 1444.58 1572.13C1446.03 1568.26 1447.35 1564.34 1448.61 1560.4C1449.85 1556.5 1451 1552.57 1452.08 1548.63C1453.15 1544.72 1454.13 1540.78 1455.05 1536.84C1455.97 1532.91 1456.8 1528.97 1457.59 1525.01C1458.36 1521.07 1459.07 1517.12 1459.73 1513.16C1460.39 1509.21 1460.98 1505.25 1461.54 1501.29C1462.1 1497.33 1462.6 1493.36 1463.07 1489.39C1463.55 1485.42 1463.97 1481.44 1464.38 1477.47C1464.79 1473.49 1465.16 1469.5 1465.52 1465.52C1465.88 1461.53 1466.21 1457.55 1466.54 1453.56C1466.86 1449.56 1467.18 1445.57 1467.49 1441.57C1467.79 1437.57 1468.09 1433.57 1468.38 1429.57C1468.66 1425.56 1468.94 1421.56 1469.21 1417.55C1469.48 1413.54 1469.73 1409.53 1469.98 1405.51C1470.23 1401.5 1470.47 1397.48 1470.71 1393.46C1470.94 1389.44 1471.16 1385.42 1471.37 1381.4C1471.59 1377.37 1471.79 1373.35 1471.99 1369.32C1472.19 1365.29 1472.38 1361.26 1472.56 1357.23C1472.74 1353.2 1472.92 1349.17 1473.08 1345.14C1473.25 1341.1 1473.41 1337.07 1473.56 1333.03C1473.71 1328.99 1473.86 1324.95 1474 1320.92C1474.14 1316.88 1474.27 1312.83 1474.39 1308.79C1474.52 1304.75 1474.63 1300.71 1474.75 1296.67C1474.86 1292.63 1474.96 1288.58 1475.06 1284.54C1475.16 1280.49 1475.26 1276.45 1475.34 1272.41C1475.43 1268.36 1475.52 1264.32 1475.59 1260.27C1475.67 1256.23 1475.74 1252.18 1475.81 1248.14C1475.88 1244.09 1475.94 1240.05 1476 1236C1476.05 1231.96 1476.11 1227.91 1476.16 1223.87C1476.2 1219.83 1476.25 1215.78 1476.29 1211.74C1476.33 1207.7 1476.37 1203.66 1476.4 1199.61C1476.43 1195.57 1476.46 1191.53 1476.49 1187.49C1476.51 1183.45 1476.53 1179.42 1476.55 1175.38C1476.57 1171.34 1476.59 1167.3 1476.6 1163.27C1476.61 1159.23 1476.62 1155.2 1476.62 1151.16C1476.63 1147.13 1476.63 1143.1 1476.63 1139.06C1476.63 1135.03 1476.62 1131 1476.62 1126.97C1476.61 1122.93 1476.6 1118.9 1476.59 1114.87C1476.57 1110.84 1476.56 1106.81 1476.54 1102.79C1476.52 1098.76 1476.5 1094.73 1476.48 1090.7C1476.45 1086.67 1476.43 1082.65 1476.4 1078.62C1476.37 1074.59 1476.34 1070.57 1476.3 1066.54C1476.27 1062.52 1476.23 1058.49 1476.2 1054.47C1476.16 1050.45 1476.12 1046.42 1476.07 1042.4C1476.03 1038.38 1475.99 1034.35 1475.94 1030.33C1475.89 1026.31 1475.84 1022.29 1475.79 1018.26C1475.74 1014.24 1475.69 1010.22 1475.64 1006.2C1475.58 1002.18 1475.53 998.16 1475.47 994.14C1475.41 990.12 1475.35 986.1 1475.29 982.08C1475.23 978.06 1475.17 974.04 1475.1 970.03C1475.04 966.01 1474.98 961.99 1474.91 957.97C1474.84 953.95 1474.78 949.93 1474.71 945.92C1474.64 941.9 1474.57 937.88 1474.5 933.86C1474.43 929.85 1474.35 925.83 1474.28 921.81C1474.21 917.8 1474.13 913.78 1474.06 909.76C1473.98 905.75 1473.91 901.73 1473.83 897.71C1473.76 893.7 1473.68 889.68 1473.6 885.66C1473.53 881.65 1473.45 877.63 1473.37 873.61C1473.29 869.6 1473.21 865.58 1473.13 861.57C1473.05 857.55 1472.97 853.53 1472.9 849.52C1472.82 845.5 1472.74 841.48 1472.66 837.47C1472.58 833.45 1472.5 829.43 1472.42 825.42C1472.34 821.4 1472.26 817.38 1472.18 813.37C1472.1 809.35 1472.02 805.33 1471.94 801.32C1471.86 797.3 1471.78 793.28 1471.7 789.26C1471.62 785.25 1471.55 781.23 1471.47 777.21C1471.39 773.19 1471.31 769.17 1471.24 765.16C1471.16 761.14 1471.08 757.12 1471.01 753.1C1470.93 749.08 1470.86 745.06 1470.79 741.04C1470.71 737.02 1470.64 733 1470.57 728.98C1470.5 724.96 1470.43 720.94 1470.36 716.92C1470.29 712.9 1470.22 708.87 1470.15 704.85C1470.09 700.83 1470.02 696.81 1469.96 692.78C1469.89 688.76 1469.83 684.74 1469.77 680.71C1469.71 676.69 1469.65 672.66 1469.59 668.64C1469.53 664.61 1469.47 660.59 1469.42 656.56C1469.36 652.54 1469.31 648.51 1469.26 644.48C1469.21 640.45 1469.16 636.43 1469.11 632.4C1469.06 628.37 1469.02 624.34 1468.97 620.31C1468.93 616.28 1468.89 612.25 1468.85 608.22C1468.81 604.19 1468.77 600.16 1468.74 596.12C1468.7 592.09 1468.67 588.06 1468.64 584.02C1468.61 579.99 1468.58 575.95 1468.56 571.92C1468.53 567.88 1468.51 563.85 1468.49 559.81C1468.47 555.77 1468.45 551.73 1468.44 547.69C1468.43 543.65 1468.42 539.62 1468.41 535.58C1468.4 531.53 1468.39 527.49 1468.39 523.45C1468.39 519.41 1468.39 515.36 1468.39 511.32C1468.4 507.27 1468.4 503.23 1468.41 499.18C1468.42 495.14 1468.44 491.09 1468.45 487.04C1468.47 482.99 1468.49 478.94 1468.52 474.89C1468.54 470.84 1468.57 466.79 1468.6 462.74C1468.63 458.68 1468.66 454.63 1468.7 450.58C1468.74 446.52 1468.78 442.46 1468.83 438.41C1468.87 434.35 1468.92 430.29 1468.98 426.23C1469.03 422.17 1469.09 418.11 1469.15 414.05C1469.22 409.99 1469.28 405.93 1469.35 401.86C1469.43 397.8 1469.51 393.74 1469.59 389.67C1469.67 385.61 1469.76 381.55 1469.86 377.49C1469.96 373.42 1470.07 369.36 1470.18 365.3C1470.3 361.24 1470.42 357.18 1470.55 353.12C1470.68 349.07 1470.82 345.01 1470.98 340.96C1471.13 336.91 1471.29 332.86 1471.47 328.81C1471.64 324.76 1471.82 320.72 1472.02 316.67C1472.22 312.64 1472.43 308.6 1472.65 304.56C1472.88 300.53 1473.11 296.5 1473.36 292.47C1473.61 288.45 1473.88 284.43 1474.16 280.41C1474.44 276.4 1474.74 272.39 1475.05 268.38C1475.36 264.38 1475.69 260.38 1476.03 256.38C1476.38 252.4 1476.74 248.41 1477.12 244.43C1477.51 240.45 1477.9 236.48 1478.32 232.51C1478.74 228.55 1479.18 224.59 1479.64 220.63C1480.1 216.69 1480.57 212.75 1481.07 208.81C1481.57 204.88 1482.09 200.96 1482.64 197.03C1483.18 193.12 1483.74 189.22 1484.34 185.31C1484.94 181.42 1485.57 177.53 1486.24 173.65C1486.92 169.78 1487.62 165.91 1488.39 162.05C1489.15 158.19 1489.96 154.34 1490.83 150.51C1491.71 146.67 1492.63 142.85 1493.63 139.04C1494.63 135.22 1495.69 131.42 1496.83 127.64C1497.98 123.84 1499.2 120.06 1500.5 116.31C1501.81 112.54 1503.2 108.78 1504.68 105.07C1506.17 101.31 1507.75 97.58 1509.42 93.9C1511.12 90.16 1512.9 86.46 1514.79 82.81C1516.71 79.1 1518.72 75.43 1520.83 71.82C1522.98 68.13 1523.56 62.34 1527.59 60.91"/><polygon class="c" points="1535.64,58.06 1544.1,49.97 1540.67,56.28 1545.7,54.5 1540.67,56.28 1547.3,59.03 1535.64,58.06"/><circle class="o" cx="1531.62" cy="59.49" r="4.27"/>
<path d="M1400.2 1625.2C1404.31 1625.2 1407.82 1621.99 1411.31 1619.87C1414.64 1617.85 1417.78 1615.41 1420.66 1612.79C1423.5 1610.2 1426.09 1607.27 1428.46 1604.23C1430.86 1601.17 1432.99 1597.85 1434.95 1594.49C1436.95 1591.06 1438.71 1587.46 1440.35 1583.84C1442.02 1580.15 1443.48 1576.36 1444.88 1572.56C1446.29 1568.73 1447.54 1564.84 1448.77 1560.94C1449.99 1557.06 1451.13 1553.15 1452.23 1549.23C1453.31 1545.34 1454.34 1541.42 1455.32 1537.49C1456.29 1533.58 1457.2 1529.66 1458.07 1525.72C1458.94 1521.8 1459.75 1517.87 1460.52 1513.93C1461.29 1510 1462 1506.06 1462.68 1502.11C1463.36 1498.17 1463.99 1494.22 1464.59 1490.26C1465.19 1486.31 1465.75 1482.35 1466.28 1478.39C1466.81 1474.43 1467.3 1470.47 1467.76 1466.5C1468.23 1462.53 1468.66 1458.56 1469.08 1454.59C1469.49 1450.61 1469.88 1446.63 1470.25 1442.65C1470.62 1438.67 1470.96 1434.68 1471.3 1430.69C1471.64 1426.7 1471.96 1422.71 1472.27 1418.72C1472.58 1414.72 1472.88 1410.72 1473.17 1406.73C1473.47 1402.72 1473.75 1398.72 1474.03 1394.72C1474.31 1390.71 1474.59 1386.7 1474.85 1382.69C1475.12 1378.68 1475.38 1374.66 1475.64 1370.65C1475.89 1366.63 1476.14 1362.61 1476.38 1358.59C1476.62 1354.57 1476.85 1350.55 1477.08 1346.52C1477.31 1342.5 1477.54 1338.47 1477.75 1334.44C1477.97 1330.41 1478.18 1326.38 1478.39 1322.35C1478.59 1318.31 1478.79 1314.28 1478.98 1310.24C1479.18 1306.21 1479.37 1302.17 1479.55 1298.13C1479.73 1294.09 1479.91 1290.05 1480.08 1286.01C1480.26 1281.97 1480.42 1277.92 1480.59 1273.88C1480.75 1269.84 1480.91 1265.79 1481.06 1261.75C1481.21 1257.7 1481.36 1253.65 1481.5 1249.6C1481.64 1245.56 1481.78 1241.51 1481.92 1237.46C1482.05 1233.41 1482.18 1229.36 1482.31 1225.31C1482.43 1221.26 1482.55 1217.21 1482.67 1213.16C1482.79 1209.11 1482.9 1205.05 1483.01 1201C1483.12 1196.95 1483.22 1192.9 1483.32 1188.85C1483.42 1184.8 1483.52 1180.75 1483.61 1176.69C1483.71 1172.64 1483.8 1168.59 1483.89 1164.54C1483.97 1160.49 1484.06 1156.44 1484.14 1152.39C1484.22 1148.34 1484.29 1144.29 1484.37 1140.24C1484.44 1136.19 1484.51 1132.14 1484.58 1128.1C1484.65 1124.05 1484.72 1120 1484.78 1115.96C1484.84 1111.91 1484.9 1107.87 1484.96 1103.82C1485.02 1099.78 1485.07 1095.74 1485.12 1091.7C1485.18 1087.65 1485.23 1083.61 1485.27 1079.57C1485.32 1075.53 1485.37 1071.49 1485.41 1067.46C1485.45 1063.42 1485.49 1059.38 1485.53 1055.34C1485.57 1051.31 1485.61 1047.27 1485.64 1043.23C1485.68 1039.2 1485.71 1035.17 1485.74 1031.13C1485.77 1027.1 1485.8 1023.07 1485.83 1019.03C1485.85 1015 1485.88 1010.97 1485.9 1006.94C1485.92 1002.91 1485.95 998.88 1485.97 994.85C1485.99 990.82 1486 986.79 1486.02 982.76C1486.04 978.73 1486.05 974.7 1486.07 970.68C1486.08 966.65 1486.09 962.62 1486.1 958.6C1486.11 954.57 1486.12 950.54 1486.13 946.52C1486.14 942.49 1486.15 938.47 1486.15 934.44C1486.16 930.42 1486.17 926.4 1486.17 922.37C1486.17 918.35 1486.18 914.33 1486.18 910.3C1486.18 906.28 1486.18 902.26 1486.18 898.24C1486.18 894.22 1486.18 890.19 1486.18 886.17C1486.18 882.15 1486.18 878.13 1486.18 874.11C1486.18 870.09 1486.17 866.07 1486.17 862.05C1486.17 858.03 1486.16 854.01 1486.16 849.99C1486.16 845.97 1486.15 841.95 1486.15 837.93C1486.14 833.91 1486.14 829.89 1486.13 825.87C1486.13 821.85 1486.12 817.84 1486.12 813.82C1486.11 809.8 1486.1 805.78 1486.1 801.76C1486.09 797.74 1486.09 793.72 1486.08 789.71C1486.08 785.69 1486.07 781.67 1486.07 777.65C1486.06 773.63 1486.06 769.62 1486.06 765.6C1486.05 761.58 1486.05 757.56 1486.04 753.54C1486.04 749.52 1486.04 745.5 1486.04 741.49C1486.03 737.47 1486.03 733.45 1486.03 729.43C1486.03 725.41 1486.03 721.39 1486.03 717.37C1486.03 713.35 1486.03 709.34 1486.03 705.32C1486.04 701.3 1486.04 697.28 1486.04 693.26C1486.05 689.24 1486.05 685.22 1486.06 681.2C1486.06 677.18 1486.07 673.16 1486.08 669.14C1486.09 665.11 1486.1 661.09 1486.11 657.07C1486.12 653.05 1486.13 649.03 1486.15 645.01C1486.16 640.98 1486.18 636.96 1486.2 632.94C1486.22 628.91 1486.24 624.89 1486.27 620.87C1486.3 616.84 1486.34 612.82 1486.37 608.8C1486.41 604.77 1486.46 600.74 1486.51 596.72C1486.56 592.69 1486.61 588.67 1486.68 584.64C1486.74 580.61 1486.82 576.59 1486.9 572.56C1486.98 568.53 1487.07 564.5 1487.17 560.47C1487.26 556.44 1487.37 552.41 1487.49 548.39C1487.61 544.35 1487.74 540.32 1487.88 536.29C1488.02 532.26 1488.17 528.23 1488.34 524.2C1488.5 520.16 1488.68 516.13 1488.87 512.09C1489.06 508.06 1489.27 504.02 1489.49 499.99C1489.71 495.95 1489.94 491.91 1490.19 487.88C1490.44 483.84 1490.71 479.8 1490.99 475.76C1491.27 471.72 1491.57 467.68 1491.88 463.64C1492.2 459.6 1492.53 455.56 1492.89 451.52C1493.24 447.47 1493.61 443.43 1494 439.39C1494.39 435.34 1494.8 431.3 1495.23 427.25C1495.67 423.2 1496.11 419.15 1496.59 415.11C1497.07 411.06 1497.56 407.02 1498.11 402.98C1498.65 398.95 1499.22 394.92 1499.85 390.9C1500.48 386.89 1501.15 382.89 1501.9 378.91C1502.64 374.94 1503.44 370.98 1504.32 367.05C1505.2 363.13 1506.14 359.23 1507.19 355.36C1508.23 351.51 1509.34 347.67 1510.58 343.88C1511.8 340.1 1513.12 336.35 1514.56 332.65C1515.99 328.96 1517.53 325.31 1519.2 321.72C1520.88 318.13 1522.66 314.58 1524.59 311.12C1526.52 307.64 1528.57 304.22 1530.76 300.91C1532.95 297.58 1535.27 294.33 1537.72 291.19C1540.18 288.05 1542.76 284.99 1545.47 282.07C1548.19 279.15 1551.04 276.32 1554.01 273.66C1557 270.98 1560.11 268.43 1563.34 266.05C1566.59 263.66 1569.97 261.4 1573.45 259.35C1576.97 257.28 1580.62 255.36 1584.34 253.67C1588.14 251.95 1591.85 249.35 1596.02 249.11"/><polygon class="c" points="1604.55,248.61 1614.92,243.21 1609.87,248.31 1615.2,248 1609.87,248.31 1615.48,252.79 1604.55,248.61"/><circle class="o" cx="1600.28" cy="248.86" r="4.27"/>
<path d="M1400.2 1625.2C1404.39 1625.2 1408.62 1625.54 1412.77 1625.15C1416.81 1624.77 1420.88 1623.98 1424.8 1622.88C1428.65 1621.81 1432.46 1620.36 1436.08 1618.65C1439.67 1616.96 1443.15 1614.93 1446.42 1612.69C1449.66 1610.46 1452.75 1607.94 1455.6 1605.24C1458.43 1602.57 1461.05 1599.62 1463.46 1596.57C1465.88 1593.51 1468.05 1590.23 1470.08 1586.89C1472.13 1583.53 1473.95 1580.02 1475.68 1576.48C1477.42 1572.9 1478.97 1569.23 1480.47 1565.55C1481.97 1561.87 1483.34 1558.12 1484.66 1554.37C1485.98 1550.62 1487.22 1546.84 1488.38 1543.04C1489.55 1539.25 1490.64 1535.42 1491.66 1531.59C1492.68 1527.75 1493.63 1523.89 1494.52 1520.02C1495.41 1516.14 1496.23 1512.25 1496.99 1508.34C1497.76 1504.43 1498.46 1500.51 1499.11 1496.57C1499.76 1492.63 1500.34 1488.68 1500.88 1484.72C1501.43 1480.75 1501.91 1476.77 1502.35 1472.79C1502.8 1468.79 1503.19 1464.79 1503.55 1460.79C1503.9 1456.78 1504.21 1452.76 1504.49 1448.74C1504.76 1444.71 1505 1440.68 1505.2 1436.64C1505.41 1432.6 1505.58 1428.56 1505.72 1424.51C1505.86 1420.46 1505.98 1416.41 1506.07 1412.36C1506.16 1408.3 1506.23 1404.24 1506.28 1400.18C1506.33 1396.13 1506.35 1392.07 1506.37 1388.01C1506.38 1383.95 1506.38 1379.9 1506.37 1375.84C1506.36 1371.79 1506.34 1367.74 1506.31 1363.68C1506.28 1359.64 1506.24 1355.59 1506.19 1351.54C1506.14 1347.5 1506.08 1343.46 1506.01 1339.42C1505.94 1335.38 1505.86 1331.34 1505.77 1327.3C1505.68 1323.27 1505.58 1319.23 1505.48 1315.2C1505.37 1311.17 1505.26 1307.14 1505.13 1303.11C1505.01 1299.08 1504.88 1295.06 1504.74 1291.03C1504.6 1287.01 1504.45 1282.99 1504.29 1278.97C1504.13 1274.95 1503.97 1270.93 1503.8 1266.91C1503.63 1262.9 1503.45 1258.88 1503.26 1254.87C1503.08 1250.85 1502.88 1246.84 1502.68 1242.83C1502.48 1238.82 1502.27 1234.81 1502.06 1230.8C1501.85 1226.8 1501.63 1222.79 1501.4 1218.78C1501.17 1214.78 1500.94 1210.78 1500.7 1206.78C1500.46 1202.77 1500.22 1198.77 1499.97 1194.77C1499.72 1190.77 1499.46 1186.78 1499.2 1182.78C1498.94 1178.78 1498.67 1174.79 1498.4 1170.79C1498.13 1166.8 1497.85 1162.8 1497.57 1158.81C1497.29 1154.82 1497.01 1150.82 1496.72 1146.83C1496.43 1142.84 1496.14 1138.85 1495.84 1134.86C1495.54 1130.87 1495.24 1126.88 1494.93 1122.89C1494.63 1118.91 1494.32 1114.92 1494.01 1110.93C1493.69 1106.94 1493.38 1102.96 1493.06 1098.97C1492.74 1094.99 1492.42 1091 1492.1 1087.02C1491.77 1083.03 1491.45 1079.05 1491.12 1075.06C1490.79 1071.08 1490.46 1067.1 1490.12 1063.11C1489.79 1059.13 1489.45 1055.15 1489.12 1051.16C1488.78 1047.18 1488.44 1043.2 1488.1 1039.21C1487.76 1035.23 1487.42 1031.25 1487.08 1027.27C1486.73 1023.28 1486.39 1019.3 1486.05 1015.32C1485.7 1011.34 1485.36 1007.35 1485.01 1003.37C1484.67 999.39 1484.32 995.4 1483.98 991.42C1483.63 987.44 1483.28 983.45 1482.94 979.47C1482.59 975.49 1482.25 971.5 1481.9 967.52C1481.56 963.53 1481.21 959.55 1480.87 955.56C1480.53 951.58 1480.19 947.59 1479.85 943.6C1479.51 939.62 1479.17 935.63 1478.83 931.64C1478.49 927.65 1478.15 923.67 1477.82 919.68C1477.48 915.69 1477.15 911.7 1476.82 907.71C1476.49 903.72 1476.16 899.72 1475.84 895.73C1475.51 891.74 1475.19 887.75 1474.87 883.75C1474.55 879.76 1474.23 875.76 1473.91 871.77C1473.6 867.77 1473.29 863.77 1472.98 859.77C1472.67 855.77 1472.37 851.77 1472.07 847.77C1471.77 843.77 1471.47 839.77 1471.18 835.76C1470.89 831.76 1470.6 827.75 1470.32 823.75C1470.03 819.74 1469.75 815.73 1469.48 811.72C1469.21 807.71 1468.94 803.7 1468.67 799.69C1468.41 795.68 1468.15 791.66 1467.89 787.65C1467.64 783.63 1467.39 779.61 1467.15 775.59C1466.91 771.57 1466.67 767.55 1466.44 763.53C1466.21 759.51 1465.99 755.48 1465.77 751.46C1465.55 747.43 1465.34 743.4 1465.13 739.37C1464.93 735.34 1464.73 731.3 1464.54 727.27C1464.35 723.23 1464.16 719.2 1463.99 715.16C1463.81 711.12 1463.64 707.08 1463.49 703.04C1463.33 698.99 1463.18 694.95 1463.04 690.9C1462.91 686.86 1462.78 682.81 1462.68 678.77C1462.57 674.72 1462.47 670.68 1462.39 666.63C1462.32 662.59 1462.26 658.54 1462.21 654.5C1462.17 650.46 1462.15 646.41 1462.15 642.37C1462.15 638.33 1462.16 634.29 1462.21 630.25C1462.25 626.22 1462.32 622.18 1462.41 618.15C1462.5 614.12 1462.62 610.09 1462.77 606.07C1462.91 602.04 1463.08 598.02 1463.29 594C1463.49 589.99 1463.72 585.98 1463.99 581.97C1464.26 577.96 1464.55 573.96 1464.89 569.96C1465.22 565.96 1465.58 561.97 1465.99 557.98C1466.39 554 1466.83 550.02 1467.31 546.04C1467.79 542.07 1468.31 538.1 1468.87 534.14C1469.43 530.18 1470.03 526.23 1470.67 522.28C1471.32 518.34 1472 514.4 1472.74 510.48C1473.47 506.55 1474.25 502.63 1475.07 498.72C1475.9 494.81 1476.77 490.91 1477.7 487.02C1478.62 483.13 1479.59 479.24 1480.62 475.38C1481.66 471.52 1482.73 467.66 1483.91 463.84C1485.08 460.04 1486.31 456.26 1487.68 452.53C1489.04 448.83 1490.48 445.15 1492.09 441.56C1493.68 437.99 1495.38 434.46 1497.26 431.05C1499.13 427.65 1501.13 424.31 1503.33 421.12C1505.53 417.93 1507.89 414.81 1510.44 411.9C1513.03 408.94 1515.8 406.1 1518.74 403.49C1521.75 400.81 1524.96 398.31 1528.29 396.03C1531.73 393.69 1535.34 391.54 1539.04 389.64C1542.86 387.67 1546.58 384.82 1550.87 384.43"/><polygon class="c" points="1559.37,383.66 1569.57,377.92 1564.69,383.18 1570,382.7 1564.69,383.18 1570.43,387.48 1559.37,383.66"/><circle class="o" cx="1555.12" cy="384.04" r="4.27"/>
<path d="M1400.2 1625.2C1404.39 1625.2 1408.65 1625.14 1412.74 1624.39C1416.78 1623.65 1420.81 1622.35 1424.59 1620.72C1428.32 1619.11 1431.95 1617.03 1435.27 1614.66C1438.52 1612.35 1441.58 1609.61 1444.3 1606.69C1446.98 1603.82 1449.33 1600.57 1451.48 1597.28C1453.64 1593.97 1455.47 1590.43 1457.24 1586.89C1459.01 1583.34 1460.57 1579.68 1462.1 1576.02C1463.63 1572.37 1465.07 1568.67 1466.43 1564.95C1467.79 1561.25 1469.06 1557.51 1470.27 1553.74C1471.47 1549.99 1472.59 1546.2 1473.64 1542.4C1474.69 1538.59 1475.67 1534.76 1476.58 1530.92C1477.49 1527.07 1478.33 1523.21 1479.11 1519.33C1479.88 1515.44 1480.59 1511.54 1481.25 1507.63C1481.9 1503.7 1482.49 1499.77 1483.02 1495.83C1483.56 1491.87 1484.04 1487.91 1484.47 1483.94C1484.9 1479.95 1485.27 1475.96 1485.6 1471.97C1485.93 1467.96 1486.21 1463.95 1486.45 1459.93C1486.69 1455.9 1486.88 1451.87 1487.03 1447.84C1487.19 1443.79 1487.3 1439.74 1487.39 1435.69C1487.47 1431.63 1487.51 1427.57 1487.53 1423.51C1487.55 1419.44 1487.53 1415.36 1487.49 1411.29C1487.45 1407.21 1487.38 1403.14 1487.29 1399.06C1487.2 1394.98 1487.08 1390.9 1486.95 1386.81C1486.82 1382.73 1486.67 1378.65 1486.51 1374.57C1486.35 1370.49 1486.17 1366.41 1485.98 1362.33C1485.8 1358.26 1485.6 1354.19 1485.4 1350.12C1485.19 1346.05 1484.98 1341.99 1484.77 1337.93C1484.55 1333.87 1484.33 1329.81 1484.09 1325.76C1483.86 1321.71 1483.63 1317.66 1483.39 1313.61C1483.14 1309.56 1482.89 1305.52 1482.64 1301.48C1482.39 1297.44 1482.13 1293.41 1481.86 1289.37C1481.6 1285.34 1481.33 1281.31 1481.05 1277.28C1480.78 1273.25 1480.5 1269.23 1480.21 1265.2C1479.93 1261.18 1479.64 1257.17 1479.35 1253.15C1479.06 1249.13 1478.77 1245.12 1478.47 1241.1C1478.17 1237.09 1477.87 1233.08 1477.56 1229.07C1477.26 1225.07 1476.95 1221.06 1476.64 1217.06C1476.33 1213.05 1476.02 1209.05 1475.71 1205.05C1475.4 1201.05 1475.08 1197.05 1474.76 1193.06C1474.45 1189.06 1474.13 1185.07 1473.81 1181.07C1473.49 1177.08 1473.17 1173.09 1472.85 1169.09C1472.53 1165.1 1472.21 1161.11 1471.89 1157.12C1471.57 1153.14 1471.25 1149.15 1470.92 1145.16C1470.6 1141.17 1470.28 1137.19 1469.96 1133.2C1469.65 1129.21 1469.33 1125.23 1469.01 1121.24C1468.69 1117.26 1468.38 1113.28 1468.06 1109.29C1467.75 1105.31 1467.44 1101.32 1467.13 1097.34C1466.82 1093.36 1466.51 1089.37 1466.2 1085.39C1465.9 1081.41 1465.6 1077.42 1465.3 1073.44C1465 1069.46 1464.7 1065.47 1464.41 1061.49C1464.12 1057.5 1463.83 1053.52 1463.54 1049.53C1463.26 1045.54 1462.98 1041.56 1462.7 1037.57C1462.43 1033.58 1462.15 1029.6 1461.89 1025.61C1461.62 1021.62 1461.36 1017.63 1461.1 1013.64C1460.85 1009.64 1460.6 1005.65 1460.35 1001.66C1460.11 997.66 1459.87 993.67 1459.63 989.67C1459.4 985.67 1459.18 981.68 1458.96 977.68C1458.74 973.68 1458.52 969.67 1458.32 965.67C1458.11 961.67 1457.92 957.66 1457.73 953.65C1457.54 949.64 1457.35 945.63 1457.18 941.62C1457.01 937.61 1456.84 933.6 1456.68 929.58C1456.52 925.56 1456.38 921.54 1456.24 917.52C1456.1 913.5 1455.97 909.47 1455.84 905.45C1455.72 901.42 1455.61 897.39 1455.51 893.36C1455.41 889.32 1455.32 885.28 1455.24 881.25C1455.16 877.2 1455.09 873.16 1455.03 869.12C1454.97 865.07 1454.92 861.02 1454.88 856.97C1454.84 852.91 1454.82 848.85 1454.8 844.8C1454.79 840.73 1454.78 836.67 1454.8 832.6C1454.82 828.53 1454.84 824.47 1454.9 820.4C1454.95 816.33 1455.03 812.26 1455.14 808.2C1455.26 804.13 1455.4 800.07 1455.58 796.01C1455.77 791.96 1455.99 787.91 1456.27 783.87C1456.54 779.84 1456.86 775.81 1457.24 771.78C1457.62 767.77 1458.05 763.76 1458.55 759.76C1459.05 755.78 1459.61 751.8 1460.24 747.83C1460.88 743.88 1461.58 739.93 1462.37 736C1463.16 732.09 1464.02 728.18 1464.98 724.3C1465.93 720.42 1466.97 716.56 1468.11 712.73C1469.25 708.9 1470.47 705.08 1471.81 701.32C1473.16 697.55 1474.59 693.81 1476.17 690.14C1477.75 686.49 1479.44 682.88 1481.31 679.37C1483.17 675.88 1485.16 672.44 1487.34 669.14C1489.52 665.86 1491.86 662.65 1494.4 659.64C1496.95 656.61 1499.69 653.69 1502.6 651.01C1505.58 648.29 1508.75 645.71 1512.07 643.43C1515.52 641.06 1518.76 637.55 1522.93 637.05"/><polygon class="c" points="1531.41,636.02 1541.42,629.97 1536.7,635.37 1542,634.73 1536.7,635.37 1542.58,639.5 1531.41,636.02"/><circle class="o" cx="1527.17" cy="636.53" r="4.27"/>
<path d="M1400.2 1625.2C1404.57 1625.2 1408.95 1624.62 1413.23 1623.85C1417.33 1623.12 1421.41 1622.04 1425.34 1620.68C1429.15 1619.37 1432.89 1617.73 1436.46 1615.86C1439.95 1614.02 1443.34 1611.88 1446.52 1609.54C1449.67 1607.23 1452.68 1604.64 1455.47 1601.9C1458.26 1599.16 1460.86 1596.18 1463.25 1593.09C1465.67 1589.98 1467.88 1586.67 1469.91 1583.29C1471.98 1579.86 1473.84 1576.28 1475.54 1572.65C1477.28 1568.97 1478.82 1565.17 1480.23 1561.35C1481.67 1557.47 1482.93 1553.51 1484.08 1549.54C1485.24 1545.53 1486.25 1541.46 1487.17 1537.39C1488.09 1533.3 1488.88 1529.19 1489.6 1525.06C1490.31 1520.96 1490.91 1516.83 1491.45 1512.7C1492 1508.59 1492.44 1504.46 1492.85 1500.34C1493.25 1496.22 1493.58 1492.1 1493.88 1487.98C1494.19 1483.87 1494.43 1479.75 1494.67 1475.63C1494.9 1471.53 1495.1 1467.42 1495.31 1463.31C1495.51 1459.21 1495.69 1455.1 1495.9 1451C1496.11 1446.91 1496.32 1442.82 1496.57 1438.73C1496.82 1434.65 1497.08 1430.57 1497.4 1426.49C1497.73 1422.43 1498.08 1418.36 1498.52 1414.3C1498.95 1410.25 1499.43 1406.19 1500.01 1402.16C1500.6 1398.12 1501.24 1394.08 1502 1390.07C1502.77 1386.04 1503.61 1382.02 1504.59 1378.04C1505.57 1374.06 1506.64 1370.09 1507.88 1366.18C1509.1 1362.29 1510.45 1358.42 1511.97 1354.64C1513.48 1350.9 1515.13 1347.2 1516.99 1343.62C1518.81 1340.09 1520.81 1336.61 1523.02 1333.3C1525.21 1330.02 1527.59 1326.83 1530.18 1323.86C1532.77 1320.89 1535.58 1318.05 1538.57 1315.49C1541.62 1312.88 1544.89 1310.45 1548.31 1308.36C1551.86 1306.18 1555.63 1304.24 1559.49 1302.66C1563.6 1300.98 1567.77 1298.81 1572.22 1298.57"/><polygon class="c" points="1580.75,1298.11 1591.14,1292.74 1586.07,1297.82 1591.4,1297.53 1586.07,1297.82 1591.66,1302.33 1580.75,1298.11"/><circle class="o" cx="1576.48" cy="1298.34" r="4.27"/>
<path d="M1400.2 1625.2C1404.8 1625.2 1409.41 1624.29 1413.87 1623.22C1417.95 1622.25 1421.99 1620.83 1425.81 1619.09C1429.42 1617.44 1432.91 1615.36 1436.15 1613.05C1439.32 1610.78 1442.3 1608.14 1445.04 1605.35C1447.79 1602.53 1450.31 1599.43 1452.61 1596.23C1454.96 1592.96 1457.07 1589.48 1459 1585.94C1460.98 1582.31 1462.74 1578.54 1464.36 1574.73C1466.01 1570.84 1467.46 1566.85 1468.81 1562.84C1470.18 1558.78 1471.37 1554.65 1472.51 1550.52C1473.66 1546.36 1474.67 1542.15 1475.68 1537.95C1476.7 1533.74 1477.62 1529.51 1478.59 1525.29C1479.55 1521.09 1480.46 1516.89 1481.47 1512.7C1482.47 1508.57 1483.47 1504.43 1484.61 1500.34C1485.72 1496.32 1486.89 1492.31 1488.24 1488.37C1489.56 1484.52 1490.98 1480.68 1492.63 1476.95C1494.24 1473.3 1496.01 1469.69 1498.03 1466.25C1500.04 1462.84 1502.24 1459.5 1504.71 1456.41C1507.2 1453.29 1509.94 1450.29 1512.91 1447.61C1516.01 1444.82 1519.37 1442.23 1522.9 1440.01C1526.72 1437.61 1530.43 1434.07 1534.94 1433.75"/><polygon class="c" points="1543.46,1433.15 1553.76,1427.61 1548.78,1432.77 1554.1,1432.4 1548.78,1432.77 1554.44,1437.19 1543.46,1433.15"/><circle class="o" cx="1539.2" cy="1433.45" r="4.27"/>
<path d="M1400.2 1625.2L1557.29 1625.53"/><polygon class="c" points="1565.83,1625.53 1576.5,1620.73 1571.16,1625.53 1576.5,1625.53 1571.16,1625.53 1576.5,1630.33 1565.83,1625.53"/><circle class="o" cx="1561.56" cy="1625.53" r="4.27"/>
<path d="M1400.2 1625.2C1404.76 1625.2 1409.35 1625.65 1413.82 1626.44C1417.92 1627.17 1422.01 1628.32 1425.91 1629.78C1429.62 1631.16 1433.25 1632.94 1436.67 1634.95C1440.04 1636.92 1443.25 1639.24 1446.28 1641.7C1449.34 1644.19 1452.21 1646.95 1454.94 1649.79C1457.73 1652.7 1460.33 1655.8 1462.83 1658.95C1465.4 1662.18 1467.8 1665.55 1470.15 1668.94C1472.55 1672.39 1474.82 1675.94 1477.09 1679.49C1479.38 1683.08 1481.59 1686.73 1483.83 1690.36C1486.08 1693.99 1488.29 1697.66 1490.57 1701.28C1492.84 1704.88 1495.11 1708.49 1497.5 1712.01C1499.86 1715.49 1502.25 1718.96 1504.8 1722.29C1507.31 1725.58 1509.9 1728.82 1512.67 1731.88C1515.4 1734.88 1518.26 1737.82 1521.3 1740.5C1524.32 1743.16 1527.51 1745.7 1530.88 1747.91C1534.28 1750.15 1537.87 1752.2 1541.59 1753.86C1545.46 1755.59 1549.41 1757.58 1553.63 1758.09"/><polygon class="c" points="1562.11,1759.12 1573.28,1755.63 1567.4,1759.76 1572.7,1760.4 1567.4,1759.76 1572.12,1765.17 1562.11,1759.12"/><circle class="o" cx="1557.87" cy="1758.61" r="4.27"/>
<path d="M1400.2 1625.2C1404.65 1625.2 1409.15 1625.61 1413.49 1626.48C1417.51 1627.28 1421.52 1628.59 1425.28 1630.22C1428.89 1631.79 1432.38 1633.82 1435.6 1636.08C1438.77 1638.32 1441.75 1640.94 1444.46 1643.72C1447.17 1646.5 1449.64 1649.59 1451.86 1652.78C1454.09 1655.98 1456.08 1659.41 1457.83 1662.91C1459.59 1666.43 1461.09 1670.11 1462.4 1673.82C1463.73 1677.58 1464.81 1681.45 1465.74 1685.34C1466.68 1689.29 1467.41 1693.31 1468.01 1697.33C1468.62 1701.42 1469.05 1705.54 1469.39 1709.66C1469.73 1713.84 1469.92 1718.03 1470.05 1722.21C1470.18 1726.42 1470.19 1730.63 1470.16 1734.84C1470.14 1739.03 1470.03 1743.23 1469.91 1747.42C1469.78 1751.58 1469.6 1755.74 1469.41 1759.9C1469.23 1764.04 1469 1768.17 1468.79 1772.31C1468.59 1776.42 1468.36 1780.53 1468.17 1784.64C1467.97 1788.73 1467.78 1792.82 1467.64 1796.91C1467.5 1800.98 1467.38 1805.05 1467.34 1809.12C1467.29 1813.18 1467.28 1817.24 1467.36 1821.3C1467.44 1825.35 1467.58 1829.4 1467.82 1833.44C1468.07 1837.49 1468.39 1841.54 1468.85 1845.57C1469.3 1849.62 1469.83 1853.66 1470.54 1857.67C1471.25 1861.67 1472.06 1865.67 1473.09 1869.6C1474.11 1873.47 1475.28 1877.34 1476.71 1881.07C1478.12 1884.74 1479.72 1888.38 1481.63 1891.82C1483.51 1895.21 1485.64 1898.53 1488.07 1901.55C1490.51 1904.6 1493.25 1907.5 1496.25 1910.01C1499.36 1912.62 1502.8 1914.99 1506.39 1916.9C1510.29 1918.98 1514.31 1921.44 1518.72 1921.96"/><polygon class="c" points="1527.2,1922.97 1538.37,1919.46 1532.5,1923.6 1537.8,1924.23 1532.5,1923.6 1537.23,1929 1527.2,1922.97"/><circle class="o" cx="1522.96" cy="1922.47" r="4.27"/>
<path d="M1400.2 1625.2C1404.51 1625.2 1408.84 1625.01 1413.12 1625.43C1417.19 1625.82 1421.28 1626.59 1425.24 1627.64C1429.08 1628.67 1432.88 1630.04 1436.52 1631.66C1440.1 1633.25 1443.59 1635.16 1446.9 1637.26C1450.19 1639.36 1453.36 1641.73 1456.33 1644.26C1459.31 1646.8 1462.14 1649.56 1464.77 1652.46C1467.41 1655.36 1469.88 1658.45 1472.15 1661.65C1474.43 1664.85 1476.53 1668.2 1478.43 1671.64C1480.34 1675.06 1482.04 1678.62 1483.57 1682.23C1485.11 1685.84 1486.44 1689.56 1487.63 1693.31C1488.83 1697.09 1489.84 1700.93 1490.72 1704.8C1491.62 1708.71 1492.34 1712.66 1492.96 1716.62C1493.59 1720.62 1494.07 1724.66 1494.47 1728.69C1494.87 1732.77 1495.15 1736.86 1495.36 1740.94C1495.58 1745.06 1495.69 1749.18 1495.75 1753.29C1495.82 1757.41 1495.8 1761.54 1495.76 1765.66C1495.72 1769.76 1495.61 1773.87 1495.49 1777.97C1495.37 1782.06 1495.2 1786.14 1495.02 1790.22C1494.83 1794.28 1494.61 1798.34 1494.38 1802.39C1494.15 1806.44 1493.89 1810.48 1493.63 1814.52C1493.37 1818.54 1493.08 1822.57 1492.8 1826.59C1492.52 1830.6 1492.23 1834.62 1491.95 1838.63C1491.67 1842.63 1491.38 1846.63 1491.11 1850.64C1490.84 1854.63 1490.57 1858.62 1490.33 1862.62C1490.08 1866.61 1489.85 1870.6 1489.65 1874.59C1489.45 1878.58 1489.26 1882.57 1489.12 1886.56C1488.97 1890.55 1488.85 1894.54 1488.78 1898.53C1488.7 1902.53 1488.66 1906.52 1488.67 1910.52C1488.68 1914.52 1488.73 1918.52 1488.85 1922.52C1488.96 1926.53 1489.12 1930.55 1489.34 1934.56C1489.57 1938.58 1489.85 1942.61 1490.21 1946.63C1490.57 1950.67 1490.98 1954.71 1491.49 1958.74C1492.01 1962.77 1492.58 1966.8 1493.29 1970.81C1494 1974.78 1494.8 1978.76 1495.75 1982.68C1496.7 1986.56 1497.76 1990.43 1499 1994.22C1500.23 1997.96 1501.61 2001.68 1503.19 2005.29C1504.75 2008.85 1506.48 2012.37 1508.44 2015.74C1510.39 2019.08 1512.53 2022.36 1514.9 2025.42C1517.28 2028.51 1519.9 2031.48 1522.69 2034.21C1525.54 2036.98 1528.62 2039.58 1531.83 2041.94C1535.1 2044.35 1538.57 2046.55 1542.14 2048.49C1545.79 2050.47 1549.6 2052.22 1553.47 2053.7C1557.43 2055.21 1561.42 2057.09 1565.65 2057.43"/><polygon class="c" points="1574.17,2058.13 1585.19,2054.21 1579.48,2058.56 1584.8,2059 1579.48,2058.56 1584.41,2063.79 1574.17,2058.13"/><circle class="o" cx="1569.91" cy="2057.78" r="4.27"/>
<path d="M1400.2 1625.2C1404.46 1625.2 1408.72 1625.37 1412.96 1625.71C1417.08 1626.04 1421.21 1626.51 1425.28 1627.21C1429.23 1627.89 1433.17 1628.73 1437.02 1629.85C1440.76 1630.94 1444.48 1632.23 1448.03 1633.81C1451.53 1635.37 1454.98 1637.17 1458.18 1639.26C1461.41 1641.35 1464.49 1643.75 1467.33 1646.34C1470.22 1649 1472.9 1651.95 1475.37 1655C1477.9 1658.12 1480.19 1661.45 1482.32 1664.85C1484.45 1668.27 1486.38 1671.85 1488.15 1675.48C1489.9 1679.07 1491.47 1682.77 1492.87 1686.52C1494.27 1690.21 1495.48 1693.99 1496.55 1697.8C1497.61 1701.59 1498.5 1705.44 1499.26 1709.3C1500.02 1713.16 1500.63 1717.07 1501.11 1720.98C1501.6 1724.91 1501.95 1728.87 1502.19 1732.82C1502.44 1736.8 1502.56 1740.8 1502.6 1744.79C1502.63 1748.81 1502.56 1752.84 1502.41 1756.86C1502.27 1760.91 1502.03 1764.96 1501.74 1769C1501.45 1773.06 1501.07 1777.12 1500.67 1781.18C1500.26 1785.25 1499.78 1789.31 1499.29 1793.37C1498.79 1797.44 1498.25 1801.49 1497.7 1805.55C1497.15 1809.6 1496.57 1813.64 1495.99 1817.68C1495.42 1821.7 1494.84 1825.72 1494.26 1829.74C1493.68 1833.73 1493.11 1837.73 1492.53 1841.72C1491.96 1845.69 1491.39 1849.66 1490.81 1853.63C1490.24 1857.58 1489.66 1861.53 1489.09 1865.47C1488.52 1869.41 1487.94 1873.34 1487.36 1877.27C1486.78 1881.19 1486.21 1885.11 1485.62 1889.02C1485.04 1892.93 1484.45 1896.84 1483.87 1900.74C1483.28 1904.64 1482.68 1908.54 1482.09 1912.44C1481.49 1916.34 1480.89 1920.23 1480.28 1924.13C1479.67 1928.02 1479.06 1931.92 1478.44 1935.81C1477.81 1939.71 1477.19 1943.61 1476.55 1947.5C1475.92 1951.41 1475.28 1955.31 1474.63 1959.21C1473.98 1963.12 1473.32 1967.03 1472.65 1970.94C1471.98 1974.86 1471.3 1978.79 1470.62 1982.71C1469.95 1986.65 1469.26 1990.58 1468.6 1994.52C1467.93 1998.48 1467.27 2002.43 1466.65 2006.39C1466.02 2010.37 1465.41 2014.34 1464.85 2018.33C1464.29 2022.32 1463.75 2026.32 1463.28 2030.33C1462.81 2034.36 1462.37 2038.39 1462.02 2042.43C1461.66 2046.48 1461.35 2050.55 1461.13 2054.61C1460.91 2058.71 1460.76 2062.81 1460.7 2066.9C1460.65 2071.03 1460.67 2075.17 1460.81 2079.29C1460.94 2083.43 1461.16 2087.57 1461.52 2091.69C1461.87 2095.79 1462.32 2099.89 1462.92 2103.96C1463.52 2107.98 1464.22 2111.99 1465.1 2115.96C1465.96 2119.87 1466.95 2123.76 1468.12 2127.58C1469.27 2131.32 1470.58 2135.04 1472.08 2138.66C1473.55 2142.21 1475.19 2145.72 1477.04 2149.09C1478.87 2152.41 1480.88 2155.66 1483.1 2158.73C1485.31 2161.78 1487.72 2164.72 1490.32 2167.44C1492.94 2170.18 1495.76 2172.76 1498.74 2175.1C1501.76 2177.47 1504.98 2179.66 1508.31 2181.57C1511.75 2183.53 1515.35 2185.27 1519.04 2186.71C1522.88 2188.22 1526.86 2189.47 1530.88 2190.41C1535.12 2191.4 1539.45 2192.28 1543.82 2192.51"/><polygon class="c" points="1552.34,2192.95 1563.25,2188.7 1557.67,2193.22 1563,2193.5 1557.67,2193.22 1562.75,2198.29 1552.34,2192.95"/><circle class="o" cx="1548.08" cy="2192.73" r="4.27"/>
<path d="M1400.2 1625.2C1404.26 1625.2 1408.38 1625.91 1412.23 1627.05C1415.89 1628.13 1419.46 1629.87 1422.73 1631.86C1425.99 1633.85 1429.02 1636.35 1431.81 1638.97C1434.65 1641.63 1437.23 1644.63 1439.64 1647.7C1442.07 1650.82 1444.28 1654.14 1446.33 1657.53C1448.42 1660.98 1450.29 1664.57 1452.04 1668.2C1453.82 1671.88 1455.41 1675.66 1456.91 1679.47C1458.42 1683.3 1459.77 1687.19 1461.07 1691.1C1462.36 1694.99 1463.54 1698.92 1464.65 1702.87C1465.76 1706.78 1466.79 1710.72 1467.74 1714.67C1468.7 1718.6 1469.57 1722.54 1470.38 1726.5C1471.19 1730.44 1471.92 1734.39 1472.6 1738.35C1473.28 1742.29 1473.88 1746.25 1474.44 1750.21C1475 1754.16 1475.49 1758.12 1475.94 1762.08C1476.39 1766.03 1476.79 1769.98 1477.14 1773.94C1477.5 1777.89 1477.81 1781.84 1478.08 1785.8C1478.36 1789.74 1478.59 1793.68 1478.8 1797.63C1479 1801.57 1479.17 1805.5 1479.32 1809.44C1479.48 1813.36 1479.6 1817.29 1479.7 1821.21C1479.81 1825.13 1479.9 1829.04 1479.98 1832.95C1480.06 1836.84 1480.12 1840.74 1480.18 1844.64C1480.24 1848.51 1480.29 1852.39 1480.35 1856.27C1480.4 1860.13 1480.45 1863.99 1480.5 1867.86C1480.55 1871.72 1480.6 1875.58 1480.65 1879.44C1480.69 1883.31 1480.74 1887.18 1480.78 1891.05C1480.82 1894.94 1480.86 1898.83 1480.9 1902.72C1480.94 1906.64 1480.97 1910.56 1481.01 1914.47C1481.05 1918.42 1481.08 1922.36 1481.11 1926.31C1481.14 1930.28 1481.18 1934.24 1481.21 1938.21C1481.24 1942.2 1481.26 1946.19 1481.29 1950.18C1481.32 1954.19 1481.35 1958.19 1481.37 1962.2C1481.4 1966.22 1481.42 1970.24 1481.45 1974.26C1481.47 1978.3 1481.49 1982.33 1481.52 1986.36C1481.54 1990.41 1481.56 1994.45 1481.58 1998.49C1481.6 2002.54 1481.62 2006.59 1481.64 2010.64C1481.66 2014.69 1481.68 2018.75 1481.7 2022.8C1481.72 2026.86 1481.74 2030.91 1481.76 2034.96C1481.78 2039.02 1481.8 2043.07 1481.82 2047.12C1481.83 2051.17 1481.85 2055.21 1481.87 2059.26C1481.89 2063.3 1481.91 2067.34 1481.93 2071.38C1481.95 2075.41 1481.97 2079.44 1481.99 2083.47C1482.01 2087.49 1482.03 2091.5 1482.05 2095.52C1482.07 2099.52 1482.09 2103.52 1482.12 2107.53C1482.15 2111.52 1482.18 2115.51 1482.22 2119.5C1482.26 2123.49 1482.3 2127.47 1482.36 2131.46C1482.42 2135.44 1482.48 2139.42 1482.56 2143.39C1482.64 2147.37 1482.74 2151.35 1482.85 2155.33C1482.96 2159.3 1483.08 2163.28 1483.22 2167.26C1483.37 2171.24 1483.53 2175.22 1483.72 2179.21C1483.9 2183.19 1484.11 2187.18 1484.34 2191.17C1484.57 2195.17 1484.82 2199.17 1485.11 2203.16C1485.39 2207.18 1485.7 2211.19 1486.04 2215.19C1486.38 2219.22 1486.75 2223.25 1487.15 2227.27C1487.56 2231.31 1487.99 2235.36 1488.47 2239.4C1488.96 2243.45 1489.47 2247.49 1490.06 2251.53C1490.65 2255.56 1491.29 2259.59 1492.03 2263.6C1492.76 2267.59 1493.56 2271.57 1494.47 2275.53C1495.39 2279.45 1496.38 2283.37 1497.51 2287.23C1498.64 2291.07 1499.86 2294.89 1501.24 2298.65C1502.62 2302.38 1504.11 2306.08 1505.78 2309.69C1507.44 2313.29 1509.24 2316.85 1511.21 2320.28C1513.2 2323.73 1515.33 2327.12 1517.66 2330.34C1520 2333.55 1522.5 2336.69 1525.23 2339.56C1527.95 2342.41 1530.87 2345.14 1534.02 2347.49C1537.18 2349.84 1540.26 2352.92 1544.14 2353.67"/><polygon class="c" points="1552.53,2355.3 1563.92,2352.62 1557.76,2356.32 1563,2357.33 1557.76,2356.32 1562.08,2362.05 1552.53,2355.3"/><circle class="o" cx="1548.33" cy="2354.48" r="4.27"/>
<path d="M936.5 1684L1121.39 1683.87"/><polygon class="c" points="1129.93,1683.87 1140.6,1679.06 1135.27,1683.87 1140.6,1683.87 1135.27,1683.87 1140.6,1688.67 1129.93,1683.87"/><circle class="o" cx="1125.66" cy="1683.87" r="4.27"/>
<path d="M816.8 2623.6C819.37 2620.45 822.03 2617.37 824.52 2614.16C826.99 2610.97 829.38 2607.72 831.7 2604.42C834 2601.13 836.22 2597.78 838.36 2594.39C840.5 2591.02 842.56 2587.58 844.54 2584.11C846.53 2580.65 848.43 2577.13 850.28 2573.59C852.12 2570.05 853.88 2566.46 855.59 2562.85C857.3 2559.23 858.94 2555.58 860.52 2551.9C862.11 2548.22 863.63 2544.51 865.1 2540.78C866.57 2537.04 867.98 2533.27 869.35 2529.49C870.72 2525.7 872.04 2521.89 873.32 2518.06C874.6 2514.23 875.83 2510.37 877.02 2506.51C878.22 2502.64 879.38 2498.75 880.5 2494.86C881.63 2490.95 882.72 2487.04 883.79 2483.12C884.86 2479.19 885.9 2475.26 886.92 2471.32C887.94 2467.38 888.93 2463.43 889.91 2459.47C890.89 2455.52 891.85 2451.56 892.8 2447.6C893.76 2443.65 894.69 2439.68 895.62 2435.72C896.55 2431.76 897.46 2427.79 898.36 2423.83C899.26 2419.86 900.15 2415.89 901.03 2411.92C901.91 2407.95 902.78 2403.98 903.63 2400.01C904.49 2396.03 905.33 2392.06 906.17 2388.08C907 2384.11 907.83 2380.13 908.64 2376.15C909.46 2372.17 910.26 2368.19 911.06 2364.21C911.86 2360.23 912.64 2356.25 913.42 2352.26C914.2 2348.28 914.97 2344.3 915.73 2340.31C916.5 2336.33 917.25 2332.34 918 2328.35C918.75 2324.37 919.49 2320.38 920.22 2316.39C920.95 2312.4 921.68 2308.41 922.4 2304.43C923.12 2300.44 923.83 2296.45 924.54 2292.46C925.25 2288.47 925.95 2284.48 926.65 2280.49C927.35 2276.5 928.04 2272.51 928.73 2268.52C929.42 2264.53 930.1 2260.54 930.78 2256.55C931.46 2252.56 932.14 2248.57 932.81 2244.58C933.48 2240.59 934.15 2236.6 934.82 2232.61C935.49 2228.62 936.15 2224.63 936.81 2220.64C937.48 2216.65 938.14 2212.66 938.79 2208.68C939.45 2204.69 940.11 2200.7 940.77 2196.72C941.42 2192.73 942.08 2188.75 942.73 2184.76C943.38 2180.78 944.04 2176.8 944.69 2172.81C945.35 2168.83 946 2164.85 946.66 2160.87C947.31 2156.89 947.97 2152.91 948.63 2148.93C949.28 2144.96 949.94 2140.98 950.61 2137C951.27 2133.03 951.93 2129.05 952.6 2125.08C953.27 2121.1 953.94 2117.13 954.62 2113.16C955.29 2109.18 955.97 2105.21 956.66 2101.24C957.34 2097.27 958.03 2093.3 958.72 2089.33C959.42 2085.36 960.12 2081.4 960.82 2077.43C961.53 2073.46 962.24 2069.49 962.96 2065.53C963.68 2061.56 964.41 2057.6 965.14 2053.63C965.88 2049.67 966.62 2045.71 967.37 2041.75C968.12 2037.78 968.88 2033.82 969.65 2029.86C970.42 2025.9 971.19 2021.94 971.98 2017.98C972.77 2014.02 973.56 2010.06 974.37 2006.1C975.18 2002.15 976 1998.19 976.83 1994.23C977.66 1990.28 978.5 1986.32 979.36 1982.37C980.21 1978.41 981.08 1974.46 981.95 1970.5C982.83 1966.55 983.73 1962.6 984.63 1958.65C985.54 1954.69 986.46 1950.74 987.39 1946.79C988.33 1942.84 989.27 1938.89 990.24 1934.94C991.2 1930.99 992.18 1927.04 993.17 1923.09C994.17 1919.14 995.18 1915.19 996.21 1911.25C997.24 1907.3 998.28 1903.35 999.34 1899.41C1000.41 1895.46 1001.48 1891.52 1002.59 1887.58C1003.69 1883.64 1004.82 1879.71 1005.98 1875.79C1007.14 1871.86 1008.32 1867.95 1009.55 1864.05C1010.77 1860.16 1012.03 1856.27 1013.34 1852.4C1014.64 1848.55 1015.98 1844.7 1017.38 1840.87C1018.77 1837.06 1020.21 1833.26 1021.72 1829.49C1023.21 1825.73 1024.76 1821.99 1026.38 1818.28C1027.99 1814.58 1029.67 1810.91 1031.41 1807.27C1033.15 1803.64 1034.96 1800.04 1036.85 1796.49C1038.73 1792.94 1040.68 1789.43 1042.72 1785.96C1044.76 1782.5 1046.87 1779.08 1049.07 1775.72C1051.28 1772.36 1053.56 1769.04 1055.94 1765.8C1058.33 1762.54 1060.79 1759.33 1063.36 1756.22C1065.93 1753.1 1068.59 1750.04 1071.36 1747.1C1074.13 1744.18 1077 1741.34 1080 1738.66C1082.97 1735.99 1086.07 1733.43 1089.29 1731.06C1092.5 1728.72 1095.83 1726.5 1099.28 1724.53C1102.74 1722.55 1106.33 1720.75 1110.01 1719.24C1113.74 1717.7 1117.5 1715.85 1121.52 1715.39"/><polygon class="c" points="1130,1714.42 1140.05,1708.43 1135.3,1713.81 1140.6,1713.2 1135.3,1713.81 1141.15,1717.97 1130,1714.42"/><circle class="o" cx="1125.76" cy="1714.9" r="4.27"/>
<path d="M816.8 2623.6C819.73 2620.29 822.5 2616.82 825.58 2613.66C828.56 2610.6 831.71 2607.68 834.98 2604.95C838.17 2602.29 841.51 2599.79 844.96 2597.5C848.33 2595.25 851.84 2593.18 855.44 2591.33C858.97 2589.51 862.64 2587.88 866.36 2586.47C870.04 2585.09 873.84 2583.91 877.66 2582.96C881.47 2582.01 885.37 2581.3 889.27 2580.76C893.2 2580.23 897.17 2579.91 901.14 2579.76C905.15 2579.59 909.18 2579.63 913.19 2579.8C917.26 2579.97 921.33 2580.32 925.37 2580.76C929.47 2581.22 933.55 2581.82 937.62 2582.51C941.72 2583.2 945.8 2584.01 949.86 2584.89C953.94 2585.77 958 2586.76 962.05 2587.79C966.1 2588.81 970.13 2589.93 974.15 2591.07C978.18 2592.21 982.19 2593.41 986.19 2594.62C990.2 2595.84 994.19 2597.1 998.19 2598.35C1002.18 2599.61 1006.16 2600.89 1010.15 2602.14C1014.12 2603.4 1018.1 2604.66 1022.09 2605.89C1026.06 2607.11 1030.03 2608.32 1034.02 2609.48C1038 2610.63 1041.98 2611.76 1045.97 2612.81C1049.95 2613.85 1053.94 2614.86 1057.95 2615.77C1061.94 2616.67 1065.95 2617.51 1069.97 2618.26C1073.99 2619 1078.02 2619.67 1082.06 2620.24C1086.1 2620.82 1090.15 2621.31 1094.21 2621.71C1098.28 2622.12 1102.37 2622.43 1106.46 2622.66C1110.57 2622.88 1114.69 2622.89 1118.81 2623.06"/><polygon class="c" points="1127.34,2623.4 1138.19,2619.03 1132.67,2623.62 1138,2623.83 1132.67,2623.62 1137.81,2628.63 1127.34,2623.4"/><circle class="o" cx="1123.07" cy="2623.23" r="4.27"/>
<path d="M816.8 2623.6C819.65 2620.49 822.23 2617.09 825.35 2614.27C828.38 2611.53 831.71 2609 835.23 2606.94C838.62 2604.96 842.32 2603.25 846.08 2602.15C849.75 2601.08 853.71 2600.51 857.54 2600.44C861.43 2600.37 865.42 2600.93 869.24 2601.74C873.19 2602.58 877.08 2603.91 880.84 2605.4C884.65 2606.91 888.36 2608.76 891.96 2610.72C895.52 2612.67 898.98 2614.84 902.33 2617.13C905.65 2619.39 908.86 2621.85 911.97 2624.39C915.08 2626.94 918.08 2629.63 921 2632.4C923.93 2635.17 926.75 2638.06 929.51 2641.01C932.29 2643.96 934.97 2647.01 937.6 2650.09C940.26 2653.18 942.83 2656.35 945.38 2659.52C947.94 2662.71 950.44 2665.94 952.94 2669.17C955.44 2672.4 957.9 2675.66 960.39 2678.91C962.87 2682.14 965.32 2685.39 967.82 2688.6C970.31 2691.79 972.8 2694.98 975.35 2698.13C977.87 2701.25 980.44 2704.33 983.02 2707.41C985.59 2710.47 988.19 2713.49 990.79 2716.53C993.39 2719.56 996.01 2722.57 998.61 2725.59C1001.21 2728.63 1003.83 2731.65 1006.4 2734.71C1008.99 2737.78 1011.58 2740.86 1014.11 2743.98C1016.67 2747.13 1019.22 2750.28 1021.67 2753.52C1024.11 2756.76 1026.54 2760.03 1028.79 2763.42C1031.02 2766.79 1033.18 2770.23 1035.08 2773.8C1036.98 2777.34 1038.74 2781 1040.16 2784.75C1041.6 2788.52 1042.73 2792.45 1043.66 2796.38C1044.61 2800.37 1045.21 2804.46 1045.81 2808.52C1046.42 2812.61 1046.8 2816.73 1047.31 2820.83C1047.82 2824.88 1048.21 2828.94 1048.87 2832.96C1049.5 2836.85 1050.15 2840.77 1051.2 2844.56C1052.2 2848.2 1053.36 2851.88 1055.01 2855.26C1056.63 2858.6 1058.6 2861.92 1061.01 2864.72C1063.57 2867.69 1066.03 2871.85 1069.92 2872.58"/><polygon class="c" points="1078.31,2874.16 1089.69,2871.41 1083.56,2875.15 1088.8,2876.13 1083.56,2875.15 1087.91,2880.85 1078.31,2874.16"/><circle class="o" cx="1074.12" cy="2873.37" r="4.27"/>
<path d="M1015.5 2817.5C1019.72 2817.5 1024.11 2817.49 1028.13 2816.41C1031.92 2815.39 1035.74 2813.51 1038.91 2811.2C1041.93 2808.99 1044.62 2805.97 1046.72 2802.85C1048.84 2799.69 1050.35 2795.98 1051.58 2792.34C1052.84 2788.58 1053.57 2784.59 1054.18 2780.65C1054.8 2776.71 1055.02 2772.69 1055.26 2768.7C1055.5 2764.73 1055.48 2760.75 1055.63 2756.78C1055.79 2752.82 1055.83 2748.84 1056.19 2744.89C1056.55 2740.92 1057.02 2736.94 1057.81 2733.03C1058.62 2729.04 1059.77 2725.1 1060.97 2721.19C1062.19 2717.21 1063.67 2713.3 1065.07 2709.37C1066.47 2705.42 1068 2701.51 1069.36 2697.54C1070.69 2693.63 1071.98 2689.69 1073.14 2685.72C1074.28 2681.81 1075.3 2677.86 1076.26 2673.9C1077.22 2669.98 1078.07 2666.04 1078.89 2662.1C1079.7 2658.19 1080.43 2654.26 1081.16 2650.33C1081.88 2646.42 1082.55 2642.51 1083.24 2638.6C1083.92 2634.71 1084.58 2630.81 1085.28 2626.93C1085.97 2623.05 1086.66 2619.18 1087.43 2615.32C1088.19 2611.47 1088.88 2607.6 1089.87 2603.81C1090.86 2600.06 1091.82 2596.24 1093.37 2592.7C1094.93 2589.15 1096.8 2585.59 1099.19 2582.55C1101.73 2579.33 1104.88 2576.44 1108.15 2573.93C1111.46 2571.39 1114.75 2567.88 1118.92 2567.39"/><polygon class="c" points="1127.4,2566.4 1137.44,2560.4 1132.7,2565.78 1138,2565.17 1132.7,2565.78 1138.56,2569.93 1127.4,2566.4"/><circle class="o" cx="1123.16" cy="2566.9" r="4.27"/>
<path d="M1015.5 2817.5L1069.59 2817.47"/><polygon class="c" points="1078.13,2817.47 1088.8,2812.66 1083.46,2817.47 1088.8,2817.47 1083.46,2817.47 1088.8,2822.27 1078.13,2817.47"/><circle class="o" cx="1073.86" cy="2817.47" r="4.27"/>
<path d="M1015.5 2817.5C1020.01 2817.5 1024.87 2817.52 1028.96 2819.04C1032.53 2820.37 1035.83 2823.22 1038.48 2826.05C1041.17 2828.92 1043.2 2832.59 1044.98 2836.16C1046.77 2839.78 1048.11 2843.69 1049.19 2847.6C1050.29 2851.6 1050.99 2855.75 1051.49 2859.88C1052 2864.13 1052.18 2868.45 1052.21 2872.73C1052.24 2877.1 1052.01 2881.48 1051.68 2885.84C1051.34 2890.22 1050.8 2894.58 1050.21 2898.93C1049.63 2903.26 1048.89 2907.56 1048.18 2911.87C1047.47 2916.13 1046.66 2920.37 1045.94 2924.63C1045.23 2928.83 1044.47 2933.02 1043.87 2937.23C1043.28 2941.36 1042.7 2945.5 1042.34 2949.65C1041.99 2953.72 1041.72 2957.82 1041.73 2961.9C1041.74 2965.93 1041.91 2969.99 1042.41 2973.98C1042.92 2977.98 1043.57 2982.03 1044.76 2985.87C1045.97 2989.78 1047.32 2993.89 1049.6 2997.22C1052.08 3000.84 1054.67 3005.78 1059.03 3006.72"/><polygon class="c" points="1067.37,3008.54 1078.82,3006.11 1072.59,3009.67 1077.8,3010.8 1072.59,3009.67 1076.78,3015.49 1067.37,3008.54"/><circle class="o" cx="1063.2" cy="3007.63" r="4.27"/>
<path d="M1402.6 2506.5C1406.82 2506.56 1411.05 2506.54 1415.27 2506.68C1419.48 2506.83 1423.69 2507.08 1427.89 2507.38C1432.09 2507.69 1436.28 2508.07 1440.47 2508.5C1444.66 2508.92 1448.84 2509.42 1453.02 2509.93C1457.2 2510.44 1461.37 2511.01 1465.55 2511.58C1469.72 2512.15 1473.9 2512.76 1478.07 2513.35C1482.24 2513.94 1486.41 2514.56 1490.59 2515.14C1494.76 2515.72 1498.94 2516.31 1503.11 2516.85C1507.29 2517.39 1511.47 2517.92 1515.66 2518.38C1519.85 2518.84 1524.04 2519.28 1528.23 2519.63C1532.43 2519.99 1536.63 2520.3 1540.84 2520.51C1545.06 2520.73 1549.28 2520.8 1553.5 2520.92"/><polygon class="c" points="1562.03,2521.15 1572.83,2516.63 1567.37,2521.29 1572.7,2521.43 1567.37,2521.29 1572.57,2526.23 1562.03,2521.15"/><circle class="o" cx="1557.77" cy="2521.03" r="4.27"/>
<path d="M1450.5 2758.8L1505.49 2758.93"/><polygon class="c" points="1514.03,2758.93 1524.7,2754.13 1519.37,2758.93 1524.7,2758.93 1519.37,2758.93 1524.7,2763.73 1514.03,2758.93"/><circle class="o" cx="1509.76" cy="2758.93" r="4.27"/>
<path d="M371 2862.3C375.19 2862.98 379.38 2863.7 383.58 2864.35C387.78 2865 391.98 2865.62 396.18 2866.21C400.39 2866.8 404.6 2867.36 408.81 2867.9C413.02 2868.43 417.24 2868.93 421.46 2869.41C425.68 2869.89 429.9 2870.34 434.13 2870.76C438.35 2871.18 442.58 2871.58 446.81 2871.95C451.04 2872.32 455.27 2872.66 459.51 2872.98C463.74 2873.3 467.98 2873.6 472.22 2873.87C476.46 2874.15 480.7 2874.4 484.94 2874.62C489.18 2874.85 493.42 2875.06 497.66 2875.24C501.91 2875.42 506.15 2875.63 510.39 2875.73"/><polygon class="c" points="518.93,2875.92 529.71,2871.37 524.27,2876.04 529.6,2876.17 524.27,2876.04 529.49,2880.97 518.93,2875.92"/><circle class="o" cx="514.66" cy="2875.83" r="4.27"/>
<path d="M474.8 2907.1L510.39 2905.5"/><polygon class="c" points="518.93,2905.5 529.6,2900.7 524.27,2905.5 529.6,2905.5 524.27,2905.5 529.6,2910.3 518.93,2905.5"/><circle class="o" cx="514.66" cy="2905.5" r="4.27"/>
</g>
<text x="16.3" y="3112.6" textLength="190">Generated by SchemaSpy</text>
</svg>
</body></html>
